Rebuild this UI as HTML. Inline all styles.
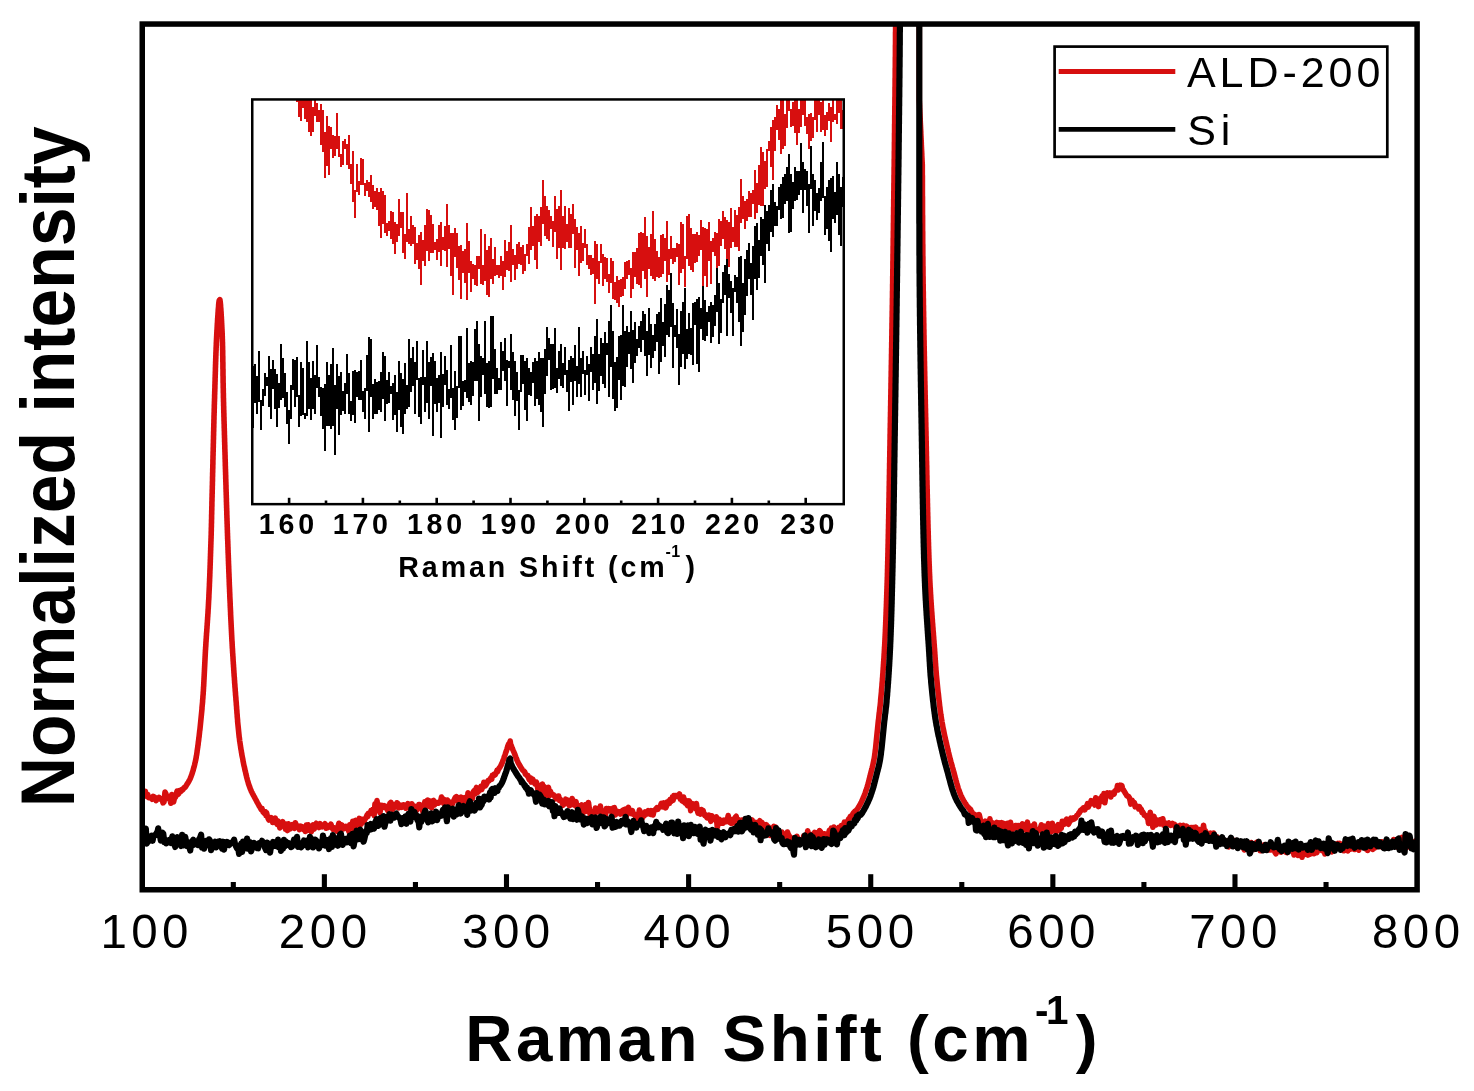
<!DOCTYPE html>
<html><head><meta charset="utf-8"><title>Raman spectra</title>
<style>
html,body{margin:0;padding:0;background:#fff;}
body{width:1474px;height:1091px;overflow:hidden;}
svg{display:block;}
text{font-family:"Liberation Sans",Arial,sans-serif;fill:#000;}
</style></head><body>
<svg width="1474" height="1091" viewBox="0 0 1474 1091">
<rect x="0" y="0" width="1474" height="1091" fill="#fff"/>
<defs>
<clipPath id="cm"><rect x="142.25" y="24.05" width="1274.85" height="865.7"/></clipPath>
<clipPath id="ci"><rect x="252.25" y="99.45" width="591.50" height="404.70"/></clipPath>
</defs>
<g clip-path="url(#cm)" fill="none" stroke-linejoin="round" stroke-linecap="round">
<polyline points="143.0,792.7 143.8,794.2 144.6,793.8 145.4,791.5 146.1,796.1 146.9,796.0 147.7,794.5 148.6,797.6 149.5,797.6 150.3,797.9 151.3,797.6 152.2,799.3 153.2,796.3 154.1,798.1 155.1,797.5 156.1,800.5 157.0,799.3 158.0,798.5 159.0,797.4 160.0,798.8 161.0,799.5 162.0,798.8 163.0,802.8 164.0,801.9 165.0,792.1 166.0,794.1 167.0,798.4 167.9,797.5 168.9,798.9 169.9,798.6 170.8,803.2 171.7,794.5 172.7,796.0 173.6,801.9 174.5,797.8 175.4,797.3 176.2,794.0 177.1,791.0 177.9,794.4 178.7,793.7 179.5,790.7 180.2,791.1 180.9,791.4 181.7,789.6 182.4,790.0 183.0,789.4 183.7,788.6 184.3,787.4 185.0,787.4 185.6,786.7 186.2,785.6 186.8,784.5 187.3,783.8 187.9,783.0 188.4,782.1 188.9,781.2 189.3,780.4 189.8,779.5 190.2,778.6 190.6,777.6 191.0,776.7 191.3,775.8 191.7,774.8 192.0,773.9 192.3,772.9 192.6,772.0 192.9,771.0 193.2,770.1 193.4,769.1 193.7,768.1 194.0,767.2 194.2,766.2 194.5,765.2 194.7,764.3 194.9,763.3 195.2,762.3 195.4,761.3 195.6,760.4 195.8,759.4 196.0,758.4 196.2,757.4 196.3,756.4 196.5,755.5 196.7,754.5 196.8,753.5 197.0,752.5 197.1,751.5 197.2,750.5 197.4,749.5 197.5,748.5 197.7,747.5 197.8,746.5 197.9,745.6 198.1,744.6 198.2,743.6 198.3,742.6 198.4,741.6 198.6,740.6 198.7,739.6 198.8,738.6 198.9,737.6 199.1,736.6 199.2,735.6 199.3,734.6 199.4,733.6 199.5,732.7 199.6,731.7 199.7,730.7 199.9,729.7 200.0,728.7 200.1,727.7 200.2,726.7 200.3,725.7 200.4,724.7 200.5,723.7 200.6,722.7 200.7,721.7 200.8,720.7 200.9,719.7 201.0,718.7 201.1,717.7 201.2,716.7 201.3,715.7 201.4,714.8 201.5,713.8 201.6,712.8 201.7,711.8 201.8,710.8 201.9,709.8 202.0,708.8 202.0,707.8 202.1,706.8 202.2,705.8 202.3,704.8 202.4,703.8 202.5,702.8 202.6,701.8 202.6,700.8 202.7,699.8 202.8,698.8 202.9,697.8 202.9,696.8 203.0,695.8 203.1,694.8 203.2,693.8 203.2,692.8 203.3,691.8 203.4,690.8 203.4,689.8 203.5,688.8 203.5,687.8 203.6,686.8 203.7,685.8 203.7,684.8 203.8,683.8 203.8,682.8 203.9,681.8 203.9,680.8 204.0,679.8 204.0,678.9 204.1,677.9 204.1,676.9 204.2,675.9 204.2,674.9 204.3,673.9 204.3,672.9 204.4,671.9 204.4,670.9 204.5,669.9 204.5,668.9 204.6,667.9 204.6,666.9 204.7,665.9 204.7,664.9 204.8,663.9 204.8,662.9 204.9,661.9 204.9,660.9 205.0,659.9 205.0,658.9 205.1,657.9 205.1,656.9 205.2,655.9 205.2,654.9 205.3,653.9 205.3,652.9 205.4,651.9 205.4,650.9 205.5,649.9 205.6,648.9 205.6,647.9 205.7,646.9 205.8,645.9 205.8,644.9 205.9,643.9 205.9,642.9 206.0,641.9 206.1,640.9 206.1,639.9 206.2,638.9 206.3,637.9 206.3,636.9 206.4,635.9 206.5,634.9 206.5,633.9 206.6,632.9 206.7,631.9 206.8,630.9 206.8,629.9 206.9,628.9 207.0,627.9 207.0,626.9 207.1,625.9 207.2,624.9 207.2,623.9 207.3,622.9 207.4,622.0 207.4,621.0 207.5,620.0 207.6,619.0 207.6,618.0 207.7,617.0 207.8,616.0 207.8,615.0 207.9,614.0 208.0,613.0 208.0,612.0 208.1,611.0 208.1,610.0 208.2,609.0 208.3,608.0 208.3,607.0 208.4,606.0 208.4,605.0 208.5,604.0 208.5,603.0 208.6,602.0 208.6,601.0 208.7,600.0 208.8,599.0 208.8,598.0 208.9,597.0 208.9,596.0 208.9,595.0 209.0,594.0 209.0,593.0 209.1,592.0 209.1,591.0 209.2,590.0 209.2,589.0 209.3,588.0 209.3,587.0 209.4,586.0 209.4,585.0 209.4,584.0 209.5,583.0 209.5,582.0 209.6,581.0 209.6,580.0 209.6,579.0 209.7,578.0 209.7,577.0 209.8,576.0 209.8,575.0 209.8,574.0 209.9,573.0 209.9,572.0 209.9,571.0 210.0,570.0 210.0,569.0 210.1,568.0 210.1,567.0 210.1,566.0 210.2,565.0 210.2,564.0 210.2,563.0 210.3,562.0 210.3,561.0 210.3,560.0 210.4,559.0 210.4,558.0 210.4,557.0 210.5,556.0 210.5,555.0 210.5,554.0 210.6,553.0 210.6,552.0 210.6,551.0 210.7,550.0 210.7,549.0 210.7,548.0 210.8,547.0 210.8,546.0 210.8,545.0 210.9,544.0 210.9,543.0 210.9,542.0 211.0,541.0 211.0,540.0 211.0,539.0 211.1,538.0 211.1,537.0 211.1,536.0 211.2,535.0 211.2,534.0 211.2,533.0 211.2,532.0 211.3,531.0 211.3,530.0 211.3,529.0 211.3,528.0 211.4,527.0 211.4,526.0 211.4,525.0 211.4,524.0 211.5,523.0 211.5,522.0 211.5,521.0 211.5,520.0 211.6,519.0 211.6,518.0 211.6,517.0 211.6,516.0 211.6,515.0 211.7,514.0 211.7,513.0 211.7,512.0 211.7,511.0 211.8,510.0 211.8,509.0 211.8,508.0 211.8,507.0 211.9,506.0 211.9,505.0 211.9,504.0 211.9,503.0 211.9,502.0 212.0,501.0 212.0,500.0 212.0,499.0 212.0,498.0 212.1,497.0 212.1,496.1 212.1,495.1 212.1,494.1 212.2,493.1 212.2,492.1 212.2,491.1 212.2,490.1 212.3,489.1 212.3,488.1 212.3,487.1 212.3,486.1 212.4,485.1 212.4,484.1 212.4,483.1 212.4,482.1 212.5,481.1 212.5,480.1 212.5,479.1 212.5,478.1 212.5,477.1 212.6,476.1 212.6,475.1 212.6,474.1 212.6,473.1 212.7,472.1 212.7,471.1 212.7,470.1 212.7,469.1 212.8,468.1 212.8,467.1 212.8,466.1 212.8,465.1 212.9,464.1 212.9,463.1 212.9,462.1 212.9,461.1 212.9,460.1 213.0,459.1 213.0,458.1 213.0,457.1 213.0,456.1 213.1,455.1 213.1,454.1 213.1,453.1 213.1,452.1 213.2,451.1 213.2,450.1 213.2,449.1 213.2,448.1 213.3,447.1 213.3,446.1 213.3,445.1 213.3,444.1 213.4,443.1 213.4,442.1 213.4,441.1 213.4,440.1 213.5,439.1 213.5,438.1 213.5,437.1 213.5,436.1 213.6,435.1 213.6,434.1 213.6,433.1 213.6,432.1 213.7,431.1 213.7,430.1 213.7,429.1 213.7,428.1 213.8,427.1 213.8,426.1 213.8,425.1 213.8,424.1 213.9,423.1 213.9,422.1 213.9,421.1 213.9,420.1 214.0,419.1 214.0,418.1 214.0,417.1 214.0,416.1 214.1,415.1 214.1,414.1 214.1,413.1 214.2,412.1 214.2,411.1 214.2,410.1 214.2,409.1 214.3,408.1 214.3,407.1 214.3,406.1 214.3,405.1 214.4,404.1 214.4,403.1 214.4,402.1 214.5,401.1 214.5,400.1 214.5,399.1 214.6,398.1 214.6,397.1 214.6,396.1 214.6,395.1 214.7,394.1 214.7,393.1 214.7,392.1 214.8,391.1 214.8,390.1 214.8,389.1 214.9,388.1 214.9,387.1 214.9,386.1 214.9,385.1 215.0,384.1 215.0,383.1 215.0,382.1 215.1,381.1 215.1,380.1 215.1,379.1 215.1,378.1 215.2,377.1 215.2,376.1 215.2,375.1 215.3,374.1 215.3,373.1 215.3,372.1 215.4,371.1 215.4,370.1 215.4,369.1 215.4,368.1 215.5,367.1 215.5,366.1 215.5,365.1 215.6,364.1 215.6,363.1 215.6,362.1 215.7,361.1 215.7,360.1 215.7,359.1 215.8,358.1 215.8,357.1 215.8,356.1 215.9,355.1 215.9,354.1 215.9,353.1 216.0,352.1 216.0,351.1 216.1,350.1 216.1,349.1 216.1,348.1 216.2,347.1 216.2,346.1 216.3,345.1 216.3,344.1 216.3,343.1 216.4,342.1 216.4,341.1 216.5,340.1 216.5,339.1 216.6,338.1 216.6,337.1 216.7,336.1 216.7,335.1 216.8,334.1 216.8,333.1 216.9,332.1 216.9,331.1 217.0,330.1 217.1,329.1 217.1,328.1 217.2,327.1 217.2,326.1 217.3,325.1 217.3,324.1 217.4,323.1 217.5,322.1 217.5,321.1 217.6,320.1 217.6,319.1 217.7,318.1 217.8,317.2 217.8,316.2 217.9,315.2 218.0,314.2 218.0,313.2 218.1,312.2 218.2,311.2 218.2,310.2 218.3,309.2 218.4,308.2 218.5,307.2 218.6,306.2 218.6,305.2 218.7,304.2 218.8,303.2 218.9,302.2 219.1,301.2 219.2,300.2 219.4,300.8 219.9,299.6 220.0,300.6 220.2,301.6 220.3,302.6 220.4,303.6 220.5,304.6 220.6,305.6 220.6,306.6 220.7,307.6 220.8,308.6 220.9,309.6 220.9,310.6 221.0,311.6 221.1,312.6 221.1,313.6 221.2,314.6 221.2,315.6 221.3,316.6 221.4,317.6 221.4,318.6 221.5,319.6 221.5,320.6 221.6,321.6 221.6,322.6 221.7,323.6 221.7,324.5 221.8,325.5 221.8,326.5 221.9,327.5 221.9,328.5 222.0,329.5 222.0,330.5 222.1,331.5 222.1,332.5 222.2,333.5 222.2,334.5 222.2,335.5 222.3,336.5 222.3,337.5 222.3,338.5 222.4,339.5 222.4,340.5 222.4,341.5 222.5,342.5 222.5,343.5 222.5,344.5 222.5,345.5 222.6,346.5 222.6,347.5 222.6,348.5 222.6,349.5 222.7,350.5 222.7,351.5 222.7,352.5 222.7,353.5 222.7,354.5 222.7,355.5 222.8,356.5 222.8,357.5 222.8,358.5 222.8,359.5 222.8,360.5 222.8,361.5 222.9,362.5 222.9,363.5 222.9,364.5 222.9,365.5 222.9,366.5 222.9,367.5 222.9,368.5 223.0,369.5 223.0,370.5 223.0,371.5 223.0,372.5 223.0,373.5 223.0,374.5 223.0,375.5 223.1,376.5 223.1,377.5 223.1,378.5 223.1,379.5 223.1,380.5 223.1,381.5 223.1,382.5 223.2,383.5 223.2,384.5 223.2,385.5 223.2,386.5 223.2,387.5 223.3,388.5 223.3,389.5 223.3,390.5 223.3,391.5 223.3,392.5 223.4,393.5 223.4,394.5 223.4,395.5 223.4,396.5 223.4,397.5 223.5,398.5 223.5,399.5 223.5,400.5 223.5,401.5 223.6,402.5 223.6,403.5 223.6,404.5 223.6,405.5 223.7,406.5 223.7,407.5 223.7,408.5 223.7,409.5 223.8,410.5 223.8,411.5 223.8,412.5 223.9,413.5 223.9,414.5 223.9,415.5 223.9,416.5 224.0,417.5 224.0,418.5 224.0,419.5 224.0,420.5 224.1,421.5 224.1,422.5 224.1,423.5 224.2,424.5 224.2,425.5 224.2,426.5 224.2,427.5 224.3,428.5 224.3,429.5 224.3,430.5 224.4,431.5 224.4,432.5 224.4,433.5 224.4,434.5 224.5,435.5 224.5,436.5 224.5,437.5 224.6,438.5 224.6,439.5 224.6,440.5 224.6,441.5 224.7,442.5 224.7,443.5 224.7,444.5 224.8,445.5 224.8,446.5 224.8,447.5 224.8,448.5 224.9,449.5 224.9,450.5 224.9,451.5 225.0,452.5 225.0,453.5 225.0,454.5 225.1,455.5 225.1,456.5 225.1,457.5 225.1,458.5 225.2,459.5 225.2,460.5 225.2,461.5 225.3,462.5 225.3,463.5 225.3,464.5 225.3,465.5 225.4,466.5 225.4,467.5 225.4,468.5 225.5,469.5 225.5,470.5 225.5,471.5 225.6,472.5 225.6,473.5 225.6,474.5 225.7,475.5 225.7,476.5 225.7,477.5 225.7,478.5 225.8,479.5 225.8,480.5 225.8,481.5 225.9,482.5 225.9,483.5 225.9,484.5 226.0,485.5 226.0,486.5 226.0,487.5 226.0,488.5 226.1,489.5 226.1,490.5 226.1,491.5 226.2,492.5 226.2,493.5 226.2,494.5 226.3,495.5 226.3,496.5 226.3,497.5 226.4,498.5 226.4,499.5 226.4,500.5 226.4,501.5 226.5,502.5 226.5,503.5 226.5,504.5 226.6,505.5 226.6,506.5 226.6,507.5 226.7,508.5 226.7,509.5 226.7,510.5 226.8,511.5 226.8,512.5 226.8,513.5 226.8,514.5 226.9,515.5 226.9,516.5 226.9,517.5 227.0,518.5 227.0,519.5 227.0,520.5 227.1,521.5 227.1,522.5 227.1,523.5 227.2,524.5 227.2,525.5 227.2,526.5 227.3,527.5 227.3,528.5 227.3,529.5 227.4,530.5 227.4,531.5 227.4,532.5 227.5,533.5 227.5,534.5 227.5,535.5 227.6,536.5 227.6,537.5 227.6,538.5 227.7,539.5 227.7,540.5 227.8,541.5 227.8,542.5 227.8,543.5 227.9,544.5 227.9,545.5 227.9,546.5 228.0,547.5 228.0,548.5 228.0,549.5 228.1,550.5 228.1,551.5 228.1,552.5 228.2,553.5 228.2,554.5 228.3,555.5 228.3,556.5 228.3,557.4 228.4,558.4 228.4,559.4 228.4,560.4 228.5,561.4 228.5,562.4 228.5,563.4 228.6,564.4 228.6,565.4 228.7,566.4 228.7,567.4 228.7,568.4 228.8,569.4 228.8,570.4 228.8,571.4 228.9,572.4 228.9,573.4 229.0,574.4 229.0,575.4 229.0,576.4 229.1,577.4 229.1,578.4 229.2,579.4 229.2,580.4 229.2,581.4 229.3,582.4 229.3,583.4 229.3,584.4 229.4,585.4 229.4,586.4 229.5,587.4 229.5,588.4 229.6,589.4 229.6,590.4 229.6,591.4 229.7,592.4 229.7,593.4 229.8,594.4 229.8,595.4 229.8,596.4 229.9,597.4 229.9,598.4 230.0,599.4 230.0,600.4 230.1,601.4 230.1,602.4 230.2,603.4 230.2,604.4 230.2,605.4 230.3,606.4 230.3,607.4 230.4,608.4 230.4,609.4 230.5,610.4 230.5,611.4 230.6,612.4 230.6,613.4 230.6,614.4 230.7,615.4 230.7,616.4 230.8,617.4 230.8,618.4 230.9,619.4 230.9,620.4 231.0,621.4 231.0,622.4 231.1,623.4 231.1,624.4 231.2,625.4 231.2,626.4 231.3,627.4 231.3,628.4 231.4,629.4 231.4,630.4 231.5,631.4 231.5,632.4 231.6,633.4 231.6,634.4 231.7,635.4 231.7,636.4 231.8,637.4 231.8,638.4 231.9,639.4 231.9,640.4 232.0,641.4 232.1,642.4 232.1,643.4 232.2,644.4 232.2,645.4 232.3,646.4 232.3,647.4 232.4,648.4 232.5,649.4 232.5,650.4 232.6,651.4 232.6,652.3 232.7,653.3 232.8,654.3 232.8,655.3 232.9,656.3 233.0,657.3 233.0,658.3 233.1,659.3 233.1,660.3 233.2,661.3 233.3,662.3 233.3,663.3 233.4,664.3 233.5,665.3 233.5,666.3 233.6,667.3 233.7,668.3 233.7,669.3 233.8,670.3 233.9,671.3 233.9,672.3 234.0,673.3 234.1,674.3 234.1,675.3 234.2,676.3 234.3,677.3 234.4,678.3 234.4,679.3 234.5,680.3 234.6,681.3 234.6,682.3 234.7,683.3 234.8,684.3 234.9,685.3 234.9,686.3 235.0,687.3 235.1,688.3 235.2,689.3 235.2,690.3 235.3,691.3 235.4,692.3 235.5,693.3 235.5,694.2 235.6,695.2 235.7,696.2 235.8,697.2 235.9,698.2 235.9,699.2 236.0,700.2 236.1,701.2 236.2,702.2 236.3,703.2 236.3,704.2 236.4,705.2 236.5,706.2 236.6,707.2 236.6,708.2 236.7,709.2 236.8,710.2 236.9,711.2 236.9,712.2 237.0,713.2 237.1,714.2 237.2,715.2 237.2,716.2 237.3,717.2 237.4,718.2 237.5,719.2 237.6,720.2 237.6,721.2 237.7,722.2 237.8,723.2 237.9,724.2 238.0,725.2 238.1,726.1 238.2,727.1 238.3,728.1 238.4,729.1 238.5,730.1 238.6,731.1 238.7,732.1 238.8,733.1 238.9,734.1 239.0,735.1 239.1,736.1 239.2,737.1 239.4,738.1 239.5,739.1 239.6,740.1 239.7,741.1 239.9,742.0 240.0,743.0 240.2,744.0 240.3,745.0 240.5,746.0 240.6,747.0 240.8,748.0 240.9,749.0 241.1,750.0 241.3,750.9 241.4,751.9 241.6,752.9 241.8,753.9 241.9,754.9 242.1,755.9 242.3,756.8 242.5,757.8 242.7,758.8 242.9,759.8 243.0,760.8 243.2,761.8 243.4,762.7 243.6,763.7 243.8,764.7 244.0,765.7 244.3,766.7 244.5,767.6 244.7,768.6 244.9,769.6 245.1,770.6 245.4,771.5 245.6,772.5 245.8,773.5 246.0,774.5 246.3,775.4 246.5,776.4 246.7,777.4 247.0,778.3 247.2,779.3 247.5,780.3 247.8,781.2 248.1,782.2 248.3,783.1 248.6,784.1 249.0,785.1 249.3,786.0 249.6,786.9 250.0,787.9 250.3,788.8 250.7,789.7 251.1,790.6 251.5,791.6 252.0,792.5 252.4,793.4 252.9,794.2 253.3,795.1 253.8,796.0 254.3,796.9 254.8,797.8 255.2,798.6 255.7,799.5 256.2,800.4 256.7,801.3 257.1,802.2 257.6,803.0 258.1,803.9 258.6,804.8 259.0,805.7 259.6,806.5 260.1,807.4 260.6,808.2 261.2,809.4 261.9,808.4 262.5,810.1 263.1,812.2 263.8,812.3 264.5,813.4 265.2,811.7 265.9,815.5 266.6,812.8 267.3,815.9 268.1,818.4 268.8,820.0 269.6,818.5 270.3,819.8 271.1,817.7 271.9,818.5 272.7,822.5 273.6,820.6 274.4,820.9 275.3,818.2 276.2,822.5 277.1,824.3 278.0,820.9 278.9,822.1 279.8,827.9 280.8,824.6 281.7,823.7 282.7,821.8 283.6,823.4 284.6,824.6 285.5,829.1 286.5,824.2 287.5,830.6 288.5,823.8 289.5,825.5 290.4,828.8 291.4,826.1 292.4,824.8 293.4,826.7 294.4,828.3 295.4,822.8 296.4,826.7 297.4,827.2 298.4,826.5 299.4,829.5 300.4,826.1 301.4,826.6 302.4,827.7 303.4,829.5 304.4,826.9 305.4,831.4 306.4,825.0 307.4,830.6 308.3,824.8 309.3,826.5 310.3,827.6 311.3,831.8 312.2,828.5 313.2,824.9 314.2,829.1 315.2,825.0 316.2,823.3 317.1,826.4 318.1,825.4 319.1,827.5 320.1,823.6 321.1,826.0 322.1,826.8 323.1,826.0 324.1,825.4 325.1,823.8 326.1,828.2 327.0,826.4 328.0,827.6 329.0,825.6 330.0,826.8 330.9,824.2 331.9,827.4 332.9,829.3 333.9,827.6 334.9,829.7 335.9,828.3 336.9,831.1 337.9,827.1 338.9,823.3 339.9,828.7 340.9,827.1 341.9,825.0 342.9,829.1 343.9,828.1 344.9,828.4 345.9,826.3 346.9,827.6 347.9,827.6 348.8,831.3 349.8,824.8 350.8,826.3 351.8,827.0 352.7,821.4 353.7,821.4 354.7,830.9 355.6,820.4 356.6,826.2 357.5,822.1 358.4,821.9 359.3,818.4 360.2,820.8 361.1,824.4 361.9,819.2 362.7,822.4 363.5,821.2 364.1,821.8 364.8,818.9 365.4,818.9 366.0,817.9 366.5,816.7 367.1,815.0 367.8,816.5 368.4,813.3 369.1,813.3 369.7,813.6 370.4,813.2 371.0,810.5 371.7,810.7 372.5,809.6 373.3,812.1 374.1,815.3 375.0,803.8 376.0,810.6 377.0,800.5 377.9,807.8 378.9,804.7 379.9,812.7 380.9,807.8 381.9,805.4 382.9,805.9 383.9,805.6 384.9,807.5 385.9,806.5 386.9,808.5 387.9,810.8 388.9,808.5 389.9,803.5 390.9,802.4 391.9,804.6 392.9,809.3 393.9,805.7 394.9,804.8 395.9,806.9 396.9,802.8 397.9,803.5 398.9,807.8 399.9,805.7 400.9,805.3 401.9,807.3 402.9,805.0 403.9,804.8 404.9,805.4 405.9,808.2 406.9,806.8 407.9,803.6 408.9,805.9 409.9,808.4 410.9,811.5 411.9,803.7 412.9,807.5 413.9,805.9 414.9,808.7 415.9,807.6 416.9,810.1 417.9,807.5 418.8,804.6 419.8,804.5 420.8,806.8 421.8,806.6 422.8,811.6 423.8,809.5 424.8,801.9 425.7,805.7 426.7,801.1 427.7,800.1 428.7,806.2 429.7,805.5 430.6,801.2 431.6,808.0 432.6,801.0 433.6,800.4 434.6,804.9 435.6,803.6 436.6,802.5 437.6,802.6 438.5,803.2 439.5,802.0 440.5,801.8 441.5,797.1 442.5,798.4 443.5,803.3 444.5,799.7 445.4,802.8 446.4,804.4 447.4,800.1 448.4,801.6 449.4,806.0 450.3,802.2 451.3,805.0 452.3,804.1 453.3,801.9 454.3,799.5 455.3,797.4 456.3,796.6 457.3,800.6 458.2,800.4 459.2,798.5 460.2,801.0 461.2,797.1 462.2,801.3 463.2,798.3 464.1,797.9 465.1,797.8 466.1,797.2 467.0,803.7 468.0,792.7 468.9,797.0 469.8,799.3 470.7,797.5 471.6,794.4 472.4,798.7 473.3,791.8 474.1,790.8 474.9,794.1 475.7,789.6 476.5,787.5 477.3,792.7 478.1,791.8 478.8,791.0 479.6,788.4 480.3,788.8 481.0,786.4 481.7,789.6 482.5,787.5 483.2,786.8 483.9,782.3 484.6,785.5 485.4,785.8 486.1,784.7 486.8,783.4 487.5,781.6 488.2,780.4 488.9,781.0 489.6,779.9 490.3,779.0 491.0,777.7 491.7,779.2 492.4,775.3 493.1,775.8 493.8,774.5 494.4,775.3 495.1,774.8 495.7,773.8 496.4,772.6 497.0,770.4 497.6,771.5 498.2,769.8 498.8,768.8 499.3,768.0 499.9,767.2 500.4,766.3 500.9,765.5 501.3,764.6 501.8,763.7 502.2,762.8 502.5,761.8 502.9,760.9 503.2,760.0 503.6,759.0 503.9,758.1 504.2,757.1 504.5,756.2 504.9,755.2 505.2,754.3 505.5,753.3 505.8,752.4 506.2,751.5 506.5,750.5 506.8,749.6 507.1,748.6 507.4,747.6 507.7,746.7 508.0,745.7 508.3,744.8 508.7,743.9 509.3,745.0 510.2,741.0 510.6,744.3 511.1,745.2 511.4,746.1 511.8,747.1 512.2,748.0 512.5,748.9 512.9,749.8 513.3,750.8 513.7,751.7 514.1,752.6 514.5,753.5 514.8,754.5 515.2,755.4 515.5,756.3 515.9,757.3 516.3,758.2 516.6,759.1 517.0,760.1 517.4,761.0 517.8,761.9 518.2,762.8 518.7,763.7 519.2,764.6 519.7,765.4 520.2,766.3 520.7,767.1 521.3,768.0 521.8,768.9 522.4,769.8 523.0,770.5 523.6,770.9 524.1,771.5 524.7,771.9 525.4,774.3 526.0,774.3 526.6,774.8 527.2,775.8 527.9,775.6 528.5,777.8 529.2,779.6 529.9,780.2 530.6,777.9 531.2,782.1 531.9,780.2 532.7,779.2 533.4,780.7 534.1,781.7 534.9,783.9 535.6,782.7 536.4,782.2 537.2,785.2 538.1,790.4 538.9,785.3 539.7,788.5 540.6,788.1 541.5,794.9 542.4,784.1 543.2,792.1 544.1,786.6 545.0,788.8 545.9,790.5 546.8,799.2 547.7,789.8 548.5,787.5 549.4,795.7 550.3,791.2 551.1,793.1 552.0,794.2 552.8,795.0 553.6,794.9 554.5,796.4 555.3,797.2 556.2,798.8 557.0,796.5 557.8,796.3 558.7,796.1 559.5,800.4 560.4,799.4 561.3,801.4 562.1,801.9 563.0,805.3 563.9,802.0 564.8,803.9 565.7,799.2 566.6,799.9 567.6,802.3 568.5,800.4 569.4,805.7 570.3,800.8 571.3,804.8 572.2,798.6 573.1,802.5 574.1,804.8 575.0,805.4 576.0,801.7 576.9,807.0 577.9,809.5 578.8,809.0 579.8,805.9 580.7,806.3 581.7,805.0 582.6,810.0 583.6,812.4 584.6,807.5 585.6,804.7 586.5,809.9 587.5,811.4 588.5,802.6 589.5,810.2 590.5,815.7 591.5,812.3 592.5,811.7 593.5,811.4 594.4,813.3 595.4,808.1 596.4,808.5 597.4,811.8 598.4,809.1 599.4,811.6 600.4,806.1 601.4,813.1 602.4,813.4 603.4,811.4 604.4,811.8 605.4,815.6 606.4,808.6 607.4,809.1 608.4,808.7 609.4,810.5 610.4,809.0 611.4,811.7 612.4,810.0 613.4,808.0 614.4,807.7 615.4,815.0 616.4,811.7 617.4,811.3 618.4,812.0 619.4,811.8 620.4,814.0 621.4,813.5 622.4,810.6 623.4,810.1 624.4,809.5 625.4,809.1 626.4,816.1 627.4,810.2 628.4,807.4 629.4,810.5 630.4,810.8 631.4,813.7 632.4,810.6 633.4,814.4 634.4,814.1 635.4,816.4 636.4,818.7 637.4,820.5 638.4,816.6 639.4,810.0 640.4,811.9 641.4,813.5 642.3,818.2 643.3,814.4 644.3,815.7 645.3,811.9 646.3,813.7 647.3,813.9 648.3,810.6 649.2,813.6 650.2,814.2 651.2,810.7 652.2,813.5 653.1,814.9 654.1,810.5 655.0,810.0 656.0,808.8 656.9,807.7 657.8,809.3 658.7,807.4 659.6,807.2 660.5,805.6 661.4,803.3 662.3,804.4 663.1,806.9 664.0,802.9 664.8,803.7 665.7,807.8 666.5,806.0 667.2,802.2 668.0,803.5 668.7,801.0 669.4,803.4 670.1,799.7 670.8,799.9 671.6,801.2 672.3,797.1 673.1,800.3 673.9,795.5 674.7,797.3 675.6,795.5 676.6,795.8 677.6,796.5 678.6,796.0 679.5,794.0 680.4,799.2 681.2,799.1 682.0,800.7 682.8,801.3 683.6,797.1 684.4,802.2 685.1,802.9 685.9,800.5 686.7,803.9 687.5,805.6 688.3,802.1 689.1,800.9 689.9,803.6 690.7,810.6 691.5,806.0 692.4,803.6 693.2,806.2 694.0,805.2 694.8,807.0 695.6,808.6 696.4,803.5 697.3,810.3 698.1,813.2 698.9,810.2 699.8,810.3 700.6,814.1 701.4,809.6 702.3,810.2 703.1,810.4 703.9,813.6 704.8,815.4 705.6,814.9 706.4,816.8 707.3,818.0 708.1,817.8 709.0,815.2 709.9,817.0 710.8,821.3 711.7,815.8 712.6,818.3 713.5,818.3 714.4,819.3 715.3,817.3 716.3,816.9 717.3,827.3 718.2,823.3 719.2,819.2 720.2,821.1 721.2,823.1 722.2,820.6 723.2,823.2 724.2,820.1 725.2,820.8 726.2,821.6 727.2,820.6 728.2,815.5 729.2,822.0 730.2,822.7 731.2,823.3 732.2,819.5 733.2,823.0 734.2,822.6 735.2,817.4 736.2,816.3 737.2,823.2 738.2,819.4 739.2,824.5 740.2,827.4 741.2,820.3 742.2,820.1 743.2,821.8 744.2,823.7 745.2,819.1 746.2,825.4 747.1,824.8 748.1,824.1 749.1,821.1 750.1,825.1 751.1,825.1 752.1,819.9 753.1,828.7 754.0,822.7 755.0,824.6 756.0,822.5 757.0,825.2 757.9,827.4 758.9,822.6 759.8,820.7 760.8,824.1 761.7,822.2 762.7,823.9 763.6,825.9 764.6,826.4 765.5,830.3 766.4,824.7 767.3,828.7 768.3,826.8 769.2,832.1 770.1,835.5 771.0,830.1 771.9,834.1 772.8,828.7 773.8,826.3 774.7,827.6 775.6,827.2 776.5,829.2 777.4,831.4 778.4,835.5 779.3,834.8 780.2,834.6 781.1,832.6 782.0,832.2 782.9,834.6 783.8,835.3 784.7,836.0 785.6,836.8 786.5,836.0 787.4,832.0 788.3,834.5 789.1,835.6 790.0,842.6 790.9,837.5 791.9,840.7 792.9,842.9 793.9,840.0 794.9,838.1 795.9,838.3 796.9,836.3 797.8,839.5 798.8,841.5 799.8,839.8 800.8,840.1 801.8,839.8 802.7,843.0 803.7,836.0 804.7,837.9 805.7,839.2 806.7,840.6 807.7,830.9 808.7,835.8 809.7,836.6 810.7,834.3 811.7,839.1 812.7,837.4 813.7,835.7 814.7,832.4 815.7,833.1 816.7,833.9 817.7,837.5 818.7,833.0 819.6,830.6 820.6,832.0 821.6,834.1 822.6,839.8 823.6,841.7 824.5,833.8 825.5,837.2 826.5,838.2 827.5,837.7 828.4,833.7 829.4,830.4 830.3,832.2 831.3,828.2 832.2,833.3 833.1,834.3 834.0,827.0 834.9,831.2 835.7,831.5 836.6,833.0 837.4,832.7 838.2,830.8 839.0,827.2 839.8,827.3 840.6,829.6 841.4,825.6 842.2,826.0 842.9,828.1 843.7,825.0 844.4,822.1 845.2,823.0 845.9,823.4 846.5,821.8 847.2,822.2 847.8,821.5 848.5,819.2 849.1,818.6 849.7,818.1 850.4,816.4 851.0,816.9 851.7,815.7 852.3,815.9 853.0,813.7 853.7,812.7 854.4,814.8 855.0,811.3 855.7,810.9 856.3,810.2 856.9,809.7 857.5,809.0 858.0,808.1 858.5,807.3 859.0,806.4 859.5,805.6 860.0,804.7 860.5,803.8 860.9,802.9 861.4,802.0 861.8,801.1 862.2,800.2 862.6,799.3 863.0,798.4 863.4,797.5 863.8,796.5 864.2,795.6 864.5,794.7 864.9,793.7 865.2,792.8 865.6,791.8 865.9,790.9 866.2,790.0 866.5,789.0 866.8,788.0 867.1,787.1 867.4,786.1 867.7,785.2 868.0,784.2 868.2,783.2 868.5,782.3 868.7,781.3 869.0,780.3 869.2,779.4 869.5,778.4 869.7,777.4 870.0,776.5 870.2,775.5 870.4,774.5 870.7,773.6 870.9,772.6 871.2,771.6 871.4,770.6 871.7,769.7 871.9,768.7 872.2,767.7 872.4,766.8 872.7,765.8 872.9,764.8 873.1,763.9 873.3,762.9 873.5,761.9 873.7,760.9 873.9,759.9 874.1,759.0 874.3,758.0 874.4,757.0 874.6,756.0 874.7,755.0 874.8,754.0 875.0,753.0 875.1,752.0 875.2,751.0 875.3,750.0 875.5,749.0 875.6,748.1 875.7,747.1 875.8,746.1 875.9,745.1 876.0,744.1 876.1,743.1 876.2,742.1 876.3,741.1 876.4,740.1 876.5,739.1 876.6,738.1 876.7,737.1 876.8,736.1 876.9,735.1 877.0,734.1 877.1,733.1 877.2,732.1 877.3,731.1 877.4,730.2 877.5,729.2 877.6,728.2 877.7,727.2 877.8,726.2 877.9,725.2 878.0,724.2 878.1,723.2 878.2,722.2 878.3,721.2 878.4,720.2 878.6,719.2 878.7,718.2 878.8,717.2 878.9,716.2 879.0,715.2 879.1,714.2 879.2,713.2 879.4,712.3 879.5,711.3 879.6,710.3 879.7,709.3 879.8,708.3 879.9,707.3 880.1,706.3 880.2,705.3 880.3,704.3 880.4,703.3 880.5,702.3 880.6,701.3 880.6,700.3 880.7,699.3 880.8,698.3 880.9,697.3 881.0,696.3 881.1,695.3 881.2,694.4 881.3,693.4 881.4,692.4 881.5,691.4 881.5,690.4 881.6,689.4 881.7,688.4 881.8,687.4 881.9,686.4 882.0,685.4 882.0,684.4 882.1,683.4 882.2,682.4 882.3,681.4 882.4,680.4 882.4,679.4 882.5,678.4 882.6,677.4 882.7,676.4 882.7,675.4 882.8,674.4 882.9,673.4 883.0,672.4 883.0,671.4 883.1,670.4 883.2,669.4 883.2,668.4 883.3,667.4 883.4,666.4 883.4,665.4 883.5,664.4 883.6,663.4 883.6,662.4 883.7,661.4 883.8,660.5 883.8,659.5 883.9,658.5 884.0,657.5 884.0,656.5 884.1,655.5 884.1,654.5 884.2,653.5 884.3,652.5 884.3,651.5 884.4,650.5 884.4,649.5 884.5,648.5 884.5,647.5 884.6,646.5 884.7,645.5 884.7,644.5 884.8,643.5 884.8,642.5 884.9,641.5 884.9,640.5 885.0,639.5 885.0,638.5 885.1,637.5 885.1,636.5 885.2,635.5 885.2,634.5 885.3,633.5 885.3,632.5 885.4,631.5 885.4,630.5 885.4,629.5 885.5,628.5 885.5,627.5 885.6,626.5 885.6,625.5 885.7,624.5 885.7,623.5 885.7,622.5 885.8,621.5 885.8,620.5 885.9,619.5 885.9,618.5 885.9,617.5 886.0,616.5 886.0,615.5 886.1,614.5 886.1,613.5 886.1,612.5 886.2,611.5 886.2,610.5 886.2,609.5 886.3,608.5 886.3,607.5 886.4,606.5 886.4,605.5 886.4,604.5 886.5,603.5 886.5,602.5 886.5,601.5 886.6,600.5 886.6,599.5 886.6,598.5 886.7,597.5 886.7,596.5 886.7,595.5 886.8,594.5 886.8,593.5 886.8,592.5 886.9,591.5 886.9,590.5 886.9,589.5 887.0,588.5 887.0,587.5 887.0,586.5 887.1,585.5 887.1,584.5 887.1,583.5 887.2,582.5 887.2,581.5 887.2,580.5 887.3,579.5 887.3,578.5 887.3,577.5 887.4,576.5 887.4,575.5 887.4,574.5 887.4,573.5 887.5,572.5 887.5,571.5 887.5,570.5 887.5,569.5 887.6,568.5 887.6,567.5 887.6,566.5 887.6,565.5 887.7,564.5 887.7,563.5 887.7,562.5 887.7,561.5 887.8,560.5 887.8,559.5 887.8,558.5 887.8,557.5 887.9,556.5 887.9,555.5 887.9,554.5 887.9,553.5 888.0,552.5 888.0,551.5 888.0,550.5 888.0,549.5 888.0,548.5 888.1,547.5 888.1,546.5 888.1,545.5 888.1,544.5 888.2,543.5 888.2,542.5 888.2,541.5 888.2,540.5 888.2,539.5 888.3,538.5 888.3,537.5 888.3,536.5 888.3,535.5 888.3,534.5 888.4,533.5 888.4,532.5 888.4,531.5 888.4,530.5 888.4,529.5 888.5,528.5 888.5,527.5 888.5,526.5 888.5,525.5 888.5,524.5 888.6,523.5 888.6,522.5 888.6,521.5 888.6,520.5 888.6,519.5 888.7,518.5 888.7,517.5 888.7,516.5 888.7,515.5 888.7,514.5 888.8,513.5 888.8,512.5 888.8,511.5 888.8,510.5 888.8,509.5 888.8,508.5 888.9,507.5 888.9,506.5 888.9,505.5 888.9,504.5 888.9,503.5 889.0,502.5 889.0,501.5 889.0,500.5 889.0,499.5 889.0,498.5 889.1,497.5 889.1,496.5 889.1,495.5 889.1,494.5 889.1,493.5 889.1,492.5 889.2,491.6 889.2,490.6 889.2,489.6 889.2,488.6 889.2,487.6 889.2,486.6 889.3,485.6 889.3,484.6 889.3,483.6 889.3,482.6 889.3,481.6 889.4,480.6 889.4,479.6 889.4,478.6 889.4,477.6 889.4,476.6 889.4,475.6 889.5,474.6 889.5,473.6 889.5,472.6 889.5,471.6 889.5,470.6 889.5,469.6 889.6,468.6 889.6,467.6 889.6,466.6 889.6,465.6 889.6,464.6 889.6,463.6 889.7,462.6 889.7,461.6 889.7,460.6 889.7,459.6 889.7,458.6 889.7,457.6 889.8,456.6 889.8,455.6 889.8,454.6 889.8,453.6 889.8,452.6 889.8,451.6 889.9,450.6 889.9,449.6 889.9,448.6 889.9,447.6 889.9,446.6 890.0,445.6 890.0,444.6 890.0,443.6 890.0,442.6 890.0,441.6 890.0,440.6 890.1,439.6 890.1,438.6 890.1,437.6 890.1,436.6 890.1,435.6 890.1,434.6 890.2,433.6 890.2,432.6 890.2,431.6 890.2,430.6 890.2,429.6 890.2,428.6 890.3,427.6 890.3,426.6 890.3,425.6 890.3,424.6 890.3,423.6 890.4,422.6 890.4,421.6 890.4,420.6 890.4,419.6 890.4,418.6 890.4,417.6 890.5,416.6 890.5,415.6 890.5,414.6 890.5,413.6 890.5,412.6 890.6,411.6 890.6,410.6 890.6,409.6 890.6,408.6 890.6,407.6 890.6,406.6 890.7,405.6 890.7,404.6 890.7,403.6 890.7,402.6 890.7,401.6 890.7,400.6 890.8,399.6 890.8,398.6 890.8,397.6 890.8,396.6 890.8,395.6 890.9,394.6 890.9,393.6 890.9,392.6 890.9,391.6 890.9,390.6 890.9,389.6 891.0,388.6 891.0,387.6 891.0,386.6 891.0,385.6 891.0,384.6 891.0,383.6 891.1,382.6 891.1,381.6 891.1,380.6 891.1,379.6 891.1,378.6 891.1,377.6 891.2,376.6 891.2,375.6 891.2,374.6 891.2,373.6 891.2,372.6 891.2,371.6 891.3,370.6 891.3,369.6 891.3,368.6 891.3,367.6 891.3,366.6 891.3,365.6 891.4,364.6 891.4,363.6 891.4,362.6 891.4,361.6 891.4,360.6 891.5,359.6 891.5,358.6 891.5,357.6 891.5,356.6 891.5,355.6 891.5,354.6 891.6,353.6 891.6,352.6 891.6,351.6 891.6,350.6 891.6,349.6 891.6,348.6 891.7,347.6 891.7,346.6 891.7,345.6 891.7,344.6 891.7,343.6 891.7,342.6 891.8,341.6 891.8,340.6 891.8,339.6 891.8,338.6 891.8,337.6 891.8,336.6 891.9,335.6 891.9,334.6 891.9,333.6 891.9,332.6 891.9,331.6 891.9,330.6 891.9,329.6 892.0,328.6 892.0,327.6 892.0,326.6 892.0,325.6 892.0,324.6 892.0,323.6 892.1,322.6 892.1,321.6 892.1,320.6 892.1,319.6 892.1,318.6 892.1,317.6 892.2,316.6 892.2,315.6 892.2,314.6 892.2,313.6 892.2,312.6 892.2,311.6 892.3,310.6 892.3,309.6 892.3,308.6 892.3,307.6 892.3,306.6 892.3,305.6 892.4,304.6 892.4,303.6 892.4,302.6 892.4,301.6 892.4,300.6 892.4,299.6 892.4,298.6 892.5,297.6 892.5,296.6 892.5,295.6 892.5,294.6 892.5,293.6 892.5,292.6 892.5,291.6 892.6,290.6 892.6,289.6 892.6,288.6 892.6,287.6 892.6,286.6 892.6,285.6 892.6,284.6 892.7,283.6 892.7,282.6 892.7,281.6 892.7,280.6 892.7,279.6 892.7,278.6 892.7,277.6 892.7,276.6 892.8,275.6 892.8,274.6 892.8,273.6 892.8,272.6 892.8,271.6 892.8,270.6 892.8,269.6 892.9,268.6 892.9,267.6 892.9,266.6 892.9,265.6 892.9,264.6 892.9,263.6 892.9,262.6 892.9,261.6 893.0,260.6 893.0,259.6 893.0,258.6 893.0,257.6 893.0,256.6 893.0,255.6 893.0,254.6 893.1,253.6 893.1,252.6 893.1,251.6 893.1,250.6 893.1,249.6 893.1,248.6 893.1,247.6 893.1,246.6 893.2,245.6 893.2,244.6 893.2,243.6 893.2,242.6 893.2,241.6 893.2,240.6 893.2,239.6 893.2,238.6 893.3,237.6 893.3,236.6 893.3,235.6 893.3,234.6 893.3,233.6 893.3,232.6 893.3,231.6 893.4,230.6 893.4,229.6 893.4,228.6 893.4,227.6 893.4,226.6 893.4,225.6 893.4,224.6 893.4,223.6 893.5,222.6 893.5,221.6 893.5,220.6 893.5,219.6 893.5,218.6 893.5,217.6 893.5,216.6 893.5,215.6 893.6,214.6 893.6,213.6 893.6,212.6 893.6,211.6 893.6,210.6 893.6,209.6 893.6,208.6 893.6,207.6 893.7,206.6 893.7,205.6 893.7,204.6 893.7,203.6 893.7,202.6 893.7,201.6 893.7,200.6 893.7,199.6 893.8,198.6 893.8,197.6 893.8,196.6 893.8,195.6 893.8,194.6 893.8,193.6 893.8,192.6 893.8,191.6 893.9,190.6 893.9,189.6 893.9,188.6 893.9,187.6 893.9,186.6 893.9,185.6 893.9,184.6 893.9,183.6 894.0,182.6 894.0,181.6 894.0,180.6 894.0,179.6 894.0,178.6 894.0,177.6 894.0,176.6 894.0,175.6 894.1,174.6 894.1,173.6 894.1,172.6 894.1,171.6 894.1,170.6 894.1,169.6 894.1,168.6 894.1,167.6 894.2,166.6 894.2,165.6 894.2,164.6 894.2,163.6 894.2,162.6 894.2,161.6 894.2,160.6 894.2,159.6 894.3,158.6 894.3,157.6 894.3,156.6 894.3,155.6 894.3,154.6 894.3,153.6 894.3,152.6 894.3,151.6 894.4,150.6 894.4,149.6 894.4,148.6 894.4,147.6 894.4,146.6 894.4,145.6 894.4,144.6 894.4,143.6 894.4,142.6 894.5,141.6 894.5,140.6 894.5,139.6 894.5,138.6 894.5,137.6 894.5,136.6 894.5,135.6 894.5,134.6 894.5,133.6 894.6,132.6 894.6,131.6 894.6,130.6 894.6,129.6 894.6,128.6 894.6,127.6 894.6,126.6 894.6,125.6 894.6,124.6 894.7,123.6 894.7,122.6 894.7,121.6 894.7,120.6 894.7,119.6 894.7,118.6 894.7,117.6 894.7,116.6 894.7,115.6 894.8,114.6 894.8,113.6 894.8,112.6 894.8,111.6 894.8,110.6 894.8,109.6 894.8,108.6 894.8,107.6 894.8,106.6 894.9,105.6 894.9,104.6 894.9,103.6 894.9,102.6 894.9,101.6 894.9,100.6 894.9,99.6 894.9,98.6 894.9,97.6 895.0,96.6 895.0,95.6 895.0,94.6 895.0,93.6 895.0,92.6 895.0,91.6 895.0,90.6 895.0,89.6 895.0,88.6 895.0,87.6 895.1,86.6 895.1,85.6 895.1,84.6 895.1,83.6 895.1,82.6 895.1,81.6 895.1,80.6 895.1,79.6 895.1,78.6 895.2,77.6 895.2,76.6 895.2,75.6 895.2,74.6 895.2,73.6 895.2,72.6 895.2,71.6 895.2,70.6 895.2,69.6 895.2,68.6 895.3,67.6 895.3,66.6 895.3,65.6 895.3,64.6 895.3,63.6 895.3,62.6 895.3,61.6 895.3,60.6 895.3,59.6 895.3,58.6 895.3,57.6 895.4,56.6 895.4,55.6 895.4,54.6 895.4,53.6 895.4,52.6 895.4,51.6 895.4,50.6 895.4,49.6 895.4,48.6 895.4,47.6 895.4,46.6 895.4,45.6 895.5,44.6 895.5,43.6 895.5,42.6 895.5,41.6 895.5,40.6 895.5,39.6 895.5,38.6 895.5,37.6 895.5,36.6 895.5,35.6 895.5,34.6 895.5,33.6 895.5,32.6 895.6,31.6 895.6,30.6 895.6,29.6 895.6,28.6 895.6,27.6 895.6,26.6 895.6,25.6 895.6,24.6 895.6,23.6 895.6,22.6 895.6,21.6 895.6,20.6 895.6,19.6 895.6,18.6 895.6,17.6 895.6,16.6 895.6,15.6 895.6,14.6 895.6,13.6 895.7,12.6 895.7,11.6 895.7,10.6 895.7,9.6 895.7,8.6 895.7,7.6 895.7,6.6 895.7,5.6 895.7,4.6 895.7,3.6 895.7,2.6 895.7,1.6 895.7,0.6 895.7,-0.4 895.7,-1.4 895.7,-2.4 895.7,-3.4 895.7,-4.4 895.7,-5.4 895.7,-6.4 895.7,-7.4 895.7,-8.4 895.7,-9.4 895.7,-10.4 895.7,-11.4 895.7,-12.4 895.7,-13.4 895.7,-14.4 895.7,-15.4 895.7,-16.4 895.7,-17.4 895.7,-18.4 895.7,-19.4 895.7,-20.4 895.7,-21.4 895.7,-22.4 895.7,-23.4 895.7,-24.4 895.7,-25.4 895.7,-26.4 895.7,-27.4 895.7,-28.4 896.2,-29.2 896.8,-30.0 897.3,-31.0 897.9,-31.7 898.5,-32.7 899.0,-33.4 899.6,-39.0 900.5,-34.0 901.5,-34.9 902.5,-28.1 903.5,-30.0 904.4,-33.5 905.4,-30.4 906.4,-31.9 907.4,-35.4 908.3,-38.6 909.3,-29.2 910.3,-30.8 911.3,-36.7 912.3,-29.8 913.2,-28.8 914.2,-32.8 915.2,-28.7 916.2,-35.1 917.1,-30.9 918.1,-30.1 919.1,-28.7 919.3,-29.2 919.3,-28.2 919.3,-27.2 919.3,-26.2 919.3,-25.2 919.3,-24.2 919.3,-23.2 919.3,-22.2 919.3,-21.2 919.3,-20.2 919.3,-19.2 919.3,-18.2 919.3,-17.2 919.3,-16.2 919.3,-15.2 919.3,-14.2 919.3,-13.2 919.3,-12.2 919.3,-11.2 919.3,-10.2 919.3,-9.2 919.3,-8.2 919.3,-7.2 919.3,-6.2 919.3,-5.2 919.3,-4.2 919.3,-3.2 919.3,-2.2 919.3,-1.2 919.3,-0.2 919.3,0.8 919.3,1.8 919.3,2.8 919.3,3.8 919.3,4.8 919.3,5.8 919.3,6.8 919.3,7.8 919.3,8.8 919.3,9.8 919.3,10.8 919.3,11.8 919.3,12.8 919.3,13.8 919.3,14.8 919.3,15.8 919.3,16.8 919.3,17.8 919.3,18.8 919.3,19.8 919.3,20.8 919.3,21.8 919.3,22.8 919.3,23.8 919.3,24.8 919.3,25.8 919.3,26.8 919.3,27.8 919.3,28.8 919.3,29.8 919.3,30.8 919.3,31.8 919.3,32.8 919.3,33.8 919.3,34.8 919.3,35.8 919.3,36.8 919.3,37.8 919.3,38.8 919.3,39.8 919.3,40.8 919.3,41.8 919.3,42.8 919.3,43.8 919.3,44.8 919.3,45.8 919.3,46.8 919.3,47.8 919.3,48.8 919.3,49.8 919.3,50.8 919.3,51.8 919.3,52.8 919.3,53.8 919.3,54.8 919.3,55.8 919.3,56.8 919.3,57.8 919.3,58.8 919.3,59.8 919.3,60.8 919.3,61.8 919.3,62.8 919.3,63.8 919.3,64.8 919.3,65.8 919.3,66.8 919.3,67.8 919.3,68.8 919.3,69.8 919.3,70.8 919.3,71.8 919.3,72.8 919.3,73.8 919.3,74.8 919.3,75.8 919.3,76.8 919.3,77.8 919.3,78.8 919.3,79.8 919.3,80.8 919.3,81.8 919.3,82.8 919.3,83.8 919.3,84.8 919.3,85.8 919.3,86.8 919.3,87.8 919.3,88.8 919.3,89.8 919.3,90.8 919.3,91.8 919.3,92.8 919.3,93.8 919.3,94.8 919.3,95.8 919.3,96.8 919.3,97.8 919.3,98.8 919.3,99.8 919.3,100.8 919.4,101.8 919.4,102.8 919.5,103.8 919.5,104.8 919.6,105.8 919.6,106.8 919.6,107.8 919.7,108.8 919.7,109.8 919.8,110.8 919.8,111.8 919.9,112.8 919.9,113.8 920.0,114.8 920.0,115.8 920.1,116.8 920.1,117.8 920.2,118.8 920.2,119.8 920.2,120.8 920.3,121.8 920.3,122.8 920.4,123.8 920.4,124.8 920.5,125.8 920.5,126.8 920.6,127.8 920.6,128.8 920.7,129.8 920.7,130.8 920.8,131.8 920.8,132.8 920.8,133.8 920.9,134.8 920.9,135.8 921.0,136.7 921.0,137.7 921.1,138.7 921.1,139.7 921.2,140.7 921.2,141.7 921.3,142.7 921.3,143.7 921.3,144.7 921.4,145.7 921.4,146.7 921.5,147.7 921.5,148.7 921.6,149.7 921.6,150.7 921.7,151.7 921.7,152.7 921.8,153.7 921.8,154.7 921.8,155.7 921.9,156.7 921.9,157.7 922.0,158.7 922.0,159.7 922.1,160.7 922.1,161.7 922.2,162.7 922.2,163.7 922.3,164.7 922.3,165.7 922.3,166.7 922.3,167.7 922.3,168.7 922.3,169.7 922.3,170.7 922.3,171.7 922.3,172.7 922.3,173.7 922.3,174.7 922.4,175.7 922.4,176.7 922.4,177.7 922.4,178.7 922.4,179.7 922.4,180.7 922.4,181.7 922.4,182.7 922.4,183.7 922.4,184.7 922.4,185.7 922.4,186.7 922.4,187.7 922.4,188.7 922.4,189.7 922.4,190.7 922.4,191.7 922.4,192.7 922.4,193.7 922.4,194.7 922.4,195.7 922.5,196.7 922.5,197.7 922.5,198.7 922.5,199.7 922.5,200.7 922.5,201.7 922.5,202.7 922.5,203.7 922.5,204.7 922.5,205.7 922.5,206.7 922.5,207.7 922.5,208.7 922.5,209.7 922.5,210.7 922.5,211.7 922.5,212.7 922.5,213.7 922.5,214.7 922.6,215.7 922.6,216.7 922.6,217.7 922.6,218.7 922.6,219.7 922.6,220.7 922.6,221.7 922.6,222.7 922.6,223.7 922.6,224.7 922.6,225.7 922.6,226.7 922.6,227.7 922.6,228.7 922.6,229.7 922.6,230.7 922.7,231.7 922.7,232.7 922.7,233.7 922.7,234.7 922.7,235.7 922.7,236.7 922.7,237.7 922.7,238.7 922.7,239.7 922.7,240.7 922.7,241.7 922.7,242.7 922.7,243.7 922.8,244.7 922.8,245.7 922.8,246.7 922.8,247.7 922.8,248.7 922.8,249.7 922.8,250.7 922.8,251.7 922.8,252.7 922.8,253.7 922.8,254.7 922.8,255.7 922.9,256.7 922.9,257.7 922.9,258.7 922.9,259.7 922.9,260.7 922.9,261.7 922.9,262.7 922.9,263.7 922.9,264.7 922.9,265.7 923.0,266.7 923.0,267.7 923.0,268.7 923.0,269.7 923.0,270.7 923.0,271.7 923.0,272.7 923.0,273.7 923.0,274.7 923.0,275.7 923.1,276.7 923.1,277.7 923.1,278.7 923.1,279.7 923.1,280.7 923.1,281.7 923.1,282.7 923.1,283.7 923.2,284.7 923.2,285.7 923.2,286.7 923.2,287.7 923.2,288.7 923.2,289.7 923.2,290.7 923.3,291.7 923.3,292.7 923.3,293.7 923.3,294.7 923.3,295.7 923.3,296.7 923.3,297.7 923.4,298.7 923.4,299.7 923.4,300.7 923.4,301.7 923.4,302.7 923.4,303.7 923.4,304.7 923.5,305.7 923.5,306.7 923.5,307.7 923.5,308.7 923.5,309.7 923.5,310.7 923.6,311.7 923.6,312.7 923.6,313.7 923.6,314.7 923.6,315.7 923.6,316.7 923.7,317.7 923.7,318.7 923.7,319.7 923.7,320.7 923.7,321.7 923.7,322.7 923.8,323.7 923.8,324.7 923.8,325.7 923.8,326.7 923.8,327.7 923.8,328.7 923.9,329.7 923.9,330.7 923.9,331.7 923.9,332.7 923.9,333.7 923.9,334.7 924.0,335.7 924.0,336.7 924.0,337.7 924.0,338.7 924.0,339.7 924.1,340.7 924.1,341.7 924.1,342.7 924.1,343.7 924.1,344.7 924.1,345.7 924.2,346.7 924.2,347.7 924.2,348.7 924.2,349.7 924.2,350.7 924.3,351.7 924.3,352.7 924.3,353.7 924.3,354.7 924.3,355.7 924.4,356.7 924.4,357.7 924.4,358.7 924.4,359.7 924.4,360.7 924.5,361.7 924.5,362.7 924.5,363.7 924.5,364.7 924.5,365.7 924.6,366.7 924.6,367.7 924.6,368.7 924.6,369.7 924.6,370.7 924.7,371.7 924.7,372.7 924.7,373.7 924.7,374.7 924.7,375.7 924.8,376.7 924.8,377.7 924.8,378.7 924.8,379.7 924.8,380.7 924.9,381.7 924.9,382.7 924.9,383.7 924.9,384.7 925.0,385.7 925.0,386.7 925.0,387.7 925.0,388.7 925.0,389.7 925.1,390.7 925.1,391.7 925.1,392.7 925.1,393.7 925.1,394.7 925.2,395.7 925.2,396.7 925.2,397.7 925.2,398.7 925.3,399.7 925.3,400.7 925.3,401.7 925.3,402.7 925.3,403.7 925.4,404.7 925.4,405.7 925.4,406.7 925.4,407.7 925.5,408.7 925.5,409.7 925.5,410.7 925.5,411.7 925.5,412.7 925.6,413.7 925.6,414.7 925.6,415.7 925.6,416.7 925.7,417.7 925.7,418.7 925.7,419.7 925.7,420.7 925.7,421.7 925.8,422.7 925.8,423.7 925.8,424.7 925.8,425.7 925.8,426.7 925.9,427.7 925.9,428.7 925.9,429.7 925.9,430.7 926.0,431.7 926.0,432.7 926.0,433.7 926.0,434.7 926.0,435.7 926.1,436.7 926.1,437.7 926.1,438.7 926.1,439.7 926.1,440.7 926.2,441.7 926.2,442.7 926.2,443.7 926.2,444.7 926.2,445.7 926.3,446.7 926.3,447.7 926.3,448.7 926.3,449.7 926.3,450.7 926.4,451.7 926.4,452.7 926.4,453.7 926.4,454.7 926.4,455.7 926.5,456.7 926.5,457.7 926.5,458.7 926.5,459.7 926.5,460.7 926.6,461.7 926.6,462.7 926.6,463.7 926.6,464.7 926.7,465.7 926.7,466.7 926.7,467.7 926.7,468.7 926.7,469.7 926.8,470.7 926.8,471.7 926.8,472.7 926.8,473.7 926.8,474.7 926.9,475.7 926.9,476.7 926.9,477.7 926.9,478.7 926.9,479.7 927.0,480.7 927.0,481.7 927.0,482.7 927.0,483.7 927.0,484.7 927.1,485.7 927.1,486.7 927.1,487.7 927.1,488.7 927.2,489.7 927.2,490.7 927.2,491.7 927.2,492.7 927.2,493.7 927.3,494.7 927.3,495.7 927.3,496.7 927.3,497.7 927.4,498.7 927.4,499.7 927.4,500.7 927.4,501.7 927.4,502.7 927.5,503.7 927.5,504.7 927.5,505.7 927.5,506.7 927.6,507.7 927.6,508.7 927.6,509.7 927.6,510.7 927.6,511.7 927.7,512.7 927.7,513.7 927.7,514.7 927.7,515.7 927.8,516.7 927.8,517.7 927.8,518.7 927.8,519.7 927.9,520.7 927.9,521.7 927.9,522.7 927.9,523.7 928.0,524.7 928.0,525.7 928.0,526.7 928.0,527.7 928.1,528.7 928.1,529.7 928.1,530.7 928.2,531.7 928.2,532.7 928.2,533.7 928.2,534.7 928.3,535.7 928.3,536.7 928.3,537.7 928.3,538.7 928.4,539.7 928.4,540.7 928.4,541.7 928.5,542.7 928.5,543.7 928.5,544.7 928.5,545.7 928.6,546.7 928.6,547.7 928.6,548.7 928.7,549.7 928.7,550.7 928.7,551.7 928.8,552.7 928.8,553.7 928.8,554.7 928.9,555.7 928.9,556.7 928.9,557.7 929.0,558.7 929.0,559.7 929.0,560.7 929.1,561.7 929.1,562.6 929.1,563.6 929.2,564.6 929.2,565.6 929.3,566.6 929.3,567.6 929.3,568.6 929.4,569.6 929.4,570.6 929.4,571.6 929.5,572.6 929.5,573.6 929.6,574.6 929.6,575.6 929.7,576.6 929.7,577.6 929.7,578.6 929.8,579.6 929.8,580.6 929.9,581.6 929.9,582.6 930.0,583.6 930.0,584.6 930.1,585.6 930.1,586.6 930.2,587.6 930.3,588.6 930.3,589.6 930.4,590.6 930.4,591.6 930.5,592.6 930.5,593.6 930.6,594.6 930.7,595.6 930.7,596.6 930.8,597.6 930.8,598.6 930.9,599.6 931.0,600.6 931.0,601.6 931.1,602.6 931.2,603.6 931.2,604.6 931.3,605.6 931.4,606.6 931.4,607.6 931.5,608.6 931.6,609.6 931.6,610.6 931.7,611.6 931.8,612.6 931.9,613.6 931.9,614.6 932.0,615.6 932.1,616.6 932.1,617.6 932.2,618.6 932.3,619.6 932.4,620.6 932.4,621.6 932.5,622.5 932.6,623.5 932.7,624.5 932.7,625.5 932.8,626.5 932.9,627.5 933.0,628.5 933.0,629.5 933.1,630.5 933.2,631.5 933.3,632.5 933.4,633.5 933.4,634.5 933.5,635.5 933.6,636.5 933.7,637.5 933.7,638.5 933.8,639.5 933.9,640.5 934.0,641.5 934.0,642.5 934.1,643.5 934.2,644.5 934.3,645.5 934.3,646.5 934.4,647.5 934.5,648.5 934.6,649.5 934.6,650.5 934.7,651.5 934.8,652.5 934.8,653.5 934.9,654.5 935.0,655.5 935.0,656.5 935.1,657.5 935.2,658.4 935.2,659.4 935.3,660.4 935.4,661.4 935.4,662.4 935.5,663.4 935.6,664.4 935.6,665.4 935.7,666.4 935.8,667.4 935.9,668.4 935.9,669.4 936.0,670.4 936.1,671.4 936.2,672.4 936.3,673.4 936.3,674.4 936.4,675.4 936.5,676.4 936.6,677.4 936.7,678.4 936.8,679.4 936.9,680.4 937.0,681.4 937.1,682.4 937.2,683.4 937.3,684.4 937.4,685.4 937.5,686.3 937.6,687.3 937.7,688.3 937.8,689.3 937.9,690.3 938.0,691.3 938.1,692.3 938.3,693.3 938.4,694.3 938.5,695.3 938.6,696.3 938.7,697.3 938.8,698.3 938.9,699.3 939.0,700.3 939.2,701.3 939.3,702.3 939.4,703.2 939.5,704.2 939.6,705.2 939.7,706.2 939.9,707.2 940.0,708.2 940.1,709.2 940.2,710.2 940.4,711.2 940.5,712.2 940.6,713.2 940.8,714.2 940.9,715.1 941.1,716.1 941.2,717.1 941.4,718.1 941.5,719.1 941.7,720.1 941.9,721.1 942.0,722.1 942.2,723.0 942.4,724.0 942.6,725.0 942.7,726.0 942.9,727.0 943.1,728.0 943.3,728.9 943.5,729.9 943.7,730.9 943.9,731.9 944.1,732.9 944.3,733.8 944.5,734.8 944.7,735.8 944.9,736.8 945.2,737.7 945.4,738.7 945.6,739.7 945.8,740.7 946.0,741.7 946.3,742.6 946.5,743.6 946.7,744.6 946.9,745.5 947.2,746.5 947.4,747.5 947.6,748.5 947.8,749.4 948.1,750.4 948.3,751.4 948.5,752.4 948.8,753.3 949.0,754.3 949.2,755.3 949.5,756.2 949.7,757.2 950.0,758.2 950.2,759.2 950.5,760.1 950.7,761.1 951.0,762.1 951.3,763.0 951.5,764.0 951.8,764.9 952.1,765.9 952.3,766.9 952.6,767.8 952.9,768.8 953.2,769.8 953.4,770.7 953.7,771.7 954.0,772.6 954.2,773.6 954.5,774.6 954.7,775.6 955.0,776.5 955.2,777.5 955.5,778.5 955.7,779.4 956.0,780.4 956.3,781.3 956.5,782.3 956.8,783.3 957.1,784.2 957.4,785.2 957.6,786.2 957.9,787.1 958.2,788.1 958.5,789.0 958.9,790.0 959.2,790.9 959.5,791.8 959.9,792.8 960.2,793.7 960.6,794.6 961.0,795.6 961.5,796.5 961.9,797.4 962.3,798.2 962.8,799.1 963.3,800.0 963.8,800.9 964.3,801.7 964.8,802.6 965.4,803.4 965.9,804.3 966.4,805.1 967.0,805.9 967.6,806.8 968.2,807.5 968.8,807.7 969.4,808.6 970.0,809.9 970.6,809.5 971.3,811.4 971.9,811.9 972.6,813.7 973.3,813.9 974.0,814.1 974.7,814.8 975.4,816.5 976.1,818.0 976.9,815.3 977.7,815.0 978.4,817.0 979.2,814.6 980.0,818.0 980.8,822.0 981.7,823.0 982.5,824.9 983.4,822.0 984.3,822.7 985.2,821.1 986.1,821.7 987.0,824.2 988.0,826.1 989.0,825.1 989.9,818.8 990.9,825.6 991.9,824.4 992.9,822.9 993.9,824.8 994.9,826.8 995.9,824.8 996.9,822.5 997.9,833.2 998.9,822.8 999.9,825.7 1000.9,828.0 1001.8,822.7 1002.8,826.8 1003.7,823.4 1004.7,825.3 1005.6,824.3 1006.6,831.2 1007.5,823.3 1008.5,828.5 1009.5,827.4 1010.5,822.3 1011.5,832.2 1012.4,826.2 1013.4,827.1 1014.4,828.4 1015.4,825.5 1016.4,825.8 1017.4,827.8 1018.4,825.6 1019.4,828.2 1020.4,831.3 1021.4,825.4 1022.4,823.9 1023.4,827.8 1024.4,829.3 1025.4,830.0 1026.4,825.5 1027.4,822.2 1028.4,830.8 1029.4,830.4 1030.4,832.6 1031.4,826.1 1032.4,830.2 1033.4,831.4 1034.4,824.0 1035.4,831.6 1036.4,832.5 1037.4,830.3 1038.4,830.2 1039.4,830.7 1040.4,828.0 1041.4,824.9 1042.4,826.2 1043.4,828.1 1044.4,826.3 1045.4,831.2 1046.4,827.4 1047.4,828.1 1048.4,823.7 1049.4,829.3 1050.4,826.3 1051.4,832.0 1052.4,823.4 1053.4,828.7 1054.4,826.6 1055.4,826.6 1056.3,831.8 1057.3,829.7 1058.3,824.7 1059.3,830.4 1060.2,824.8 1061.2,828.3 1062.2,821.3 1063.1,824.7 1064.0,824.4 1064.9,823.9 1065.8,820.2 1066.7,819.1 1067.6,823.3 1068.4,824.2 1069.3,822.4 1070.1,821.0 1070.9,818.1 1071.7,820.0 1072.5,818.9 1073.3,818.0 1074.1,819.0 1074.9,818.4 1075.6,818.0 1076.3,816.4 1077.0,815.2 1077.7,815.1 1078.3,814.3 1078.9,812.8 1079.5,812.7 1080.1,811.2 1080.8,810.1 1081.4,809.9 1082.0,809.2 1082.7,809.8 1083.4,807.9 1084.2,808.5 1084.9,809.8 1085.8,806.7 1086.6,806.8 1087.5,803.7 1088.3,807.1 1089.2,804.6 1090.2,804.2 1091.1,800.7 1092.0,800.9 1092.9,801.2 1093.9,802.8 1094.8,805.0 1095.7,797.9 1096.6,800.5 1097.6,800.2 1098.5,806.6 1099.4,799.7 1100.3,798.4 1101.2,801.3 1102.1,796.0 1103.0,799.9 1103.9,793.6 1104.8,802.8 1105.7,797.0 1106.5,795.6 1107.4,792.9 1108.3,795.3 1109.2,795.4 1110.1,793.0 1110.9,797.0 1111.8,793.0 1112.6,793.4 1113.4,793.1 1114.2,794.0 1114.9,790.8 1115.5,790.6 1116.2,790.0 1116.8,789.6 1117.5,785.6 1118.3,790.0 1119.2,786.8 1120.1,785.1 1121.1,787.3 1121.8,785.5 1122.5,788.3 1123.1,789.6 1123.6,790.4 1124.2,791.3 1124.7,792.1 1125.2,793.0 1125.7,793.8 1126.3,794.7 1126.8,795.6 1127.4,796.1 1128.1,796.2 1128.7,796.7 1129.4,797.8 1130.1,800.7 1130.8,804.1 1131.5,800.4 1132.2,800.4 1133.0,802.8 1133.7,803.4 1134.4,802.7 1135.1,806.8 1135.8,806.1 1136.6,806.8 1137.3,806.3 1138.0,807.1 1138.7,808.9 1139.4,806.7 1140.1,808.2 1140.8,809.9 1141.4,809.5 1142.0,812.4 1142.6,811.9 1143.2,812.8 1143.8,813.9 1144.4,815.3 1145.1,815.3 1145.7,815.6 1146.3,816.0 1147.0,817.9 1147.7,817.4 1148.5,823.4 1149.3,822.3 1150.2,812.3 1151.1,818.1 1152.0,821.8 1152.9,827.2 1153.9,816.2 1154.9,820.5 1155.9,824.9 1156.9,820.1 1157.9,822.2 1158.9,820.8 1159.9,824.0 1160.9,819.5 1161.8,822.5 1162.8,818.8 1163.8,825.3 1164.8,824.5 1165.8,823.1 1166.7,823.5 1167.7,823.7 1168.7,823.0 1169.6,824.6 1170.6,825.4 1171.6,824.5 1172.5,823.5 1173.5,824.2 1174.5,824.3 1175.4,827.0 1176.4,826.5 1177.4,831.5 1178.3,826.1 1179.3,827.0 1180.3,825.4 1181.2,827.6 1182.2,826.3 1183.2,825.5 1184.2,828.3 1185.2,832.2 1186.1,826.0 1187.1,826.8 1188.1,828.5 1189.1,829.5 1190.1,832.4 1191.1,827.5 1192.0,829.0 1193.0,827.5 1194.0,827.5 1195.0,828.8 1195.9,827.3 1196.9,831.6 1197.9,833.5 1198.8,829.7 1199.8,829.5 1200.7,835.1 1201.7,831.4 1202.6,836.2 1203.5,825.2 1204.5,832.6 1205.4,830.8 1206.3,832.5 1207.2,836.4 1208.1,837.6 1209.0,834.8 1209.9,838.1 1210.8,833.2 1211.7,837.3 1212.6,836.6 1213.5,833.0 1214.4,840.2 1215.3,836.5 1216.2,839.7 1217.2,837.0 1218.1,839.7 1219.0,841.2 1220.0,839.9 1220.9,839.0 1221.9,842.1 1222.9,841.3 1223.8,840.0 1224.8,841.4 1225.8,841.4 1226.7,840.9 1227.7,844.4 1228.7,846.8 1229.6,841.2 1230.6,842.5 1231.6,840.5 1232.6,839.7 1233.5,846.4 1234.5,841.9 1235.5,844.7 1236.5,840.5 1237.5,842.6 1238.4,845.7 1239.4,845.8 1240.4,845.4 1241.4,846.0 1242.4,845.7 1243.4,847.9 1244.3,849.9 1245.3,847.2 1246.3,845.6 1247.3,843.4 1248.3,844.9 1249.3,845.5 1250.3,850.3 1251.3,842.6 1252.2,844.8 1253.2,844.3 1254.2,849.4 1255.2,845.5 1256.2,842.6 1257.2,842.2 1258.2,848.5 1259.2,843.6 1260.2,850.8 1261.1,850.8 1262.1,845.3 1263.1,847.5 1264.1,848.5 1265.1,844.7 1266.1,845.5 1267.1,847.2 1268.1,848.8 1269.1,849.8 1270.1,844.3 1271.1,849.9 1272.1,849.1 1273.1,848.8 1274.1,848.4 1275.0,852.4 1276.0,853.8 1277.0,848.7 1278.0,849.5 1279.0,845.9 1280.0,849.1 1281.0,852.0 1282.0,850.0 1283.0,851.3 1284.0,850.1 1285.0,850.7 1286.0,852.3 1287.0,852.6 1288.0,845.6 1289.0,850.2 1290.0,843.2 1291.0,850.9 1292.0,849.4 1293.0,849.4 1294.0,855.0 1295.0,851.9 1296.0,853.9 1297.0,852.6 1298.0,855.4 1299.0,850.3 1300.0,850.3 1301.0,850.7 1302.0,857.3 1303.0,849.8 1304.0,850.9 1305.0,854.4 1306.0,853.2 1307.0,849.4 1308.0,855.1 1309.0,851.8 1310.0,854.2 1311.0,851.9 1312.0,852.3 1313.0,848.2 1314.0,853.7 1315.0,848.1 1316.0,850.0 1316.9,852.5 1317.9,848.7 1318.9,849.8 1319.9,849.3 1320.9,849.6 1321.9,850.6 1322.9,845.0 1323.9,847.4 1324.9,854.0 1325.9,843.5 1326.9,846.8 1327.9,850.4 1328.9,843.4 1329.8,845.8 1330.8,845.8 1331.8,851.9 1332.8,845.4 1333.8,849.2 1334.8,845.8 1335.8,847.4 1336.8,844.3 1337.8,843.4 1338.8,845.9 1339.8,843.4 1340.8,846.5 1341.8,847.2 1342.8,847.9 1343.8,850.7 1344.8,850.4 1345.8,843.7 1346.8,844.6 1347.8,850.9 1348.8,846.3 1349.8,845.4 1350.8,849.1 1351.8,844.6 1352.8,848.6 1353.8,845.4 1354.8,849.5 1355.8,845.7 1356.8,848.2 1357.8,848.7 1358.8,850.1 1359.8,843.8 1360.8,844.8 1361.8,842.1 1362.8,841.3 1363.8,844.4 1364.8,846.1 1365.8,848.9 1366.8,844.5 1367.7,850.5 1368.7,846.0 1369.7,847.8 1370.7,844.8 1371.7,842.1 1372.7,849.5 1373.7,844.5 1374.7,848.1 1375.7,844.2 1376.7,846.7 1377.7,844.7 1378.7,844.2 1379.7,844.6 1380.7,846.7 1381.7,841.8 1382.7,842.3 1383.7,847.4 1384.7,842.8 1385.7,845.2 1386.7,841.1 1387.7,844.0 1388.7,847.4 1389.7,844.7 1390.7,845.0 1391.7,843.3 1392.7,844.6 1393.7,839.6 1394.7,839.9 1395.7,845.2 1396.7,839.5 1397.7,847.4 1398.7,846.2 1399.7,840.8 1400.7,838.2 1401.7,837.5 1402.7,844.6 1403.7,843.5 1404.7,847.2 1405.7,844.8 1406.7,847.6 1407.7,845.8 1408.7,841.0 1409.7,842.9 1410.7,841.1 1411.7,842.4 1412.7,841.9 1413.7,842.6 1414.7,846.6 1415.7,841.6 1416.7,839.9 1417.7,841.3" stroke="rgb(215,15,15)" stroke-width="5.6"/>
<polyline points="143.0,836.7 143.9,834.5 144.9,835.2 145.8,828.5 146.8,843.6 147.7,841.6 148.7,836.7 149.7,840.7 150.7,838.9 151.7,835.8 152.6,840.8 153.5,835.9 154.4,835.6 155.1,834.8 155.7,835.0 156.2,834.1 156.6,833.2 157.0,832.3 157.6,831.8 158.2,828.3 158.7,832.1 159.0,833.1 159.2,834.0 159.5,835.0 159.8,835.9 160.2,836.9 160.8,840.5 161.5,833.6 162.4,832.7 163.3,833.8 164.3,842.2 165.3,839.9 166.3,843.3 167.3,842.2 168.3,840.5 169.3,840.9 170.3,839.4 171.3,843.2 172.3,836.4 173.3,839.0 174.2,841.4 175.2,847.0 176.2,838.2 177.2,837.2 178.2,839.1 179.2,844.5 180.2,840.4 181.2,846.0 182.2,834.9 183.2,845.5 184.2,845.3 185.2,836.8 186.2,842.4 187.2,846.2 188.2,842.3 189.2,845.6 190.2,850.5 191.2,843.2 192.2,841.4 193.2,839.7 194.1,844.8 195.1,841.9 196.1,842.1 197.1,842.4 198.1,845.1 199.1,839.2 200.1,837.7 201.1,834.6 202.1,847.4 203.1,843.5 204.1,848.6 205.1,843.4 206.1,840.9 207.1,845.2 208.1,843.4 209.1,839.3 210.1,840.7 211.1,850.1 212.1,845.2 213.1,845.5 214.1,843.1 215.1,841.8 216.1,847.4 217.1,843.9 218.1,841.7 219.1,844.0 220.1,841.3 221.1,845.2 222.1,848.6 223.1,841.7 224.1,849.7 225.1,842.4 226.1,845.4 227.1,841.9 228.1,844.1 229.1,845.1 230.1,843.5 231.1,842.6 232.1,842.7 233.1,842.2 234.1,839.7 235.1,844.3 236.1,846.6 237.1,848.4 238.1,847.5 239.1,853.9 240.1,846.4 241.1,843.8 242.1,851.9 243.1,841.7 244.1,848.8 245.1,842.1 246.1,846.7 247.1,838.6 248.1,848.6 249.1,844.9 250.1,842.1 251.1,851.4 252.1,848.2 253.1,845.7 254.1,842.9 255.1,845.4 256.1,845.0 257.1,848.1 258.1,848.3 259.1,843.2 260.1,843.6 261.1,843.6 262.1,840.8 263.1,843.4 264.1,845.1 265.1,847.9 266.1,850.1 267.1,842.6 268.1,847.3 269.1,843.8 270.1,852.6 271.1,845.1 272.0,847.0 273.0,842.0 274.0,842.4 275.0,845.9 276.0,843.8 277.0,846.3 278.0,839.6 279.0,847.3 280.0,841.8 281.0,850.9 282.0,843.8 283.0,848.7 284.0,839.9 285.0,846.2 286.0,841.6 287.0,842.9 288.0,844.7 289.0,843.4 290.0,845.4 291.0,847.1 292.0,846.7 293.0,844.1 294.0,839.6 295.0,841.5 296.0,843.6 297.0,836.8 298.0,846.8 299.0,843.3 300.0,843.2 301.0,847.4 302.0,846.4 303.0,844.8 304.0,840.4 305.0,845.0 306.0,845.1 307.0,840.7 308.0,847.4 309.0,845.5 310.0,836.8 311.0,844.0 312.0,839.1 313.0,847.5 314.0,846.3 315.0,839.5 316.0,840.2 317.0,843.6 318.0,842.3 319.0,848.4 320.0,845.6 321.0,841.9 322.0,844.9 323.0,835.6 324.0,843.7 325.0,845.6 326.0,841.8 327.0,839.9 328.0,844.3 329.0,849.0 330.0,842.8 330.9,838.1 331.9,846.9 332.9,835.2 333.9,843.4 334.9,839.5 335.9,844.7 336.9,838.3 337.9,845.8 338.9,842.1 339.9,834.8 340.9,833.8 341.9,839.4 342.8,844.9 343.8,840.7 344.8,840.3 345.8,839.0 346.8,842.2 347.8,840.8 348.7,840.3 349.7,835.6 350.7,843.0 351.7,843.4 352.6,833.9 353.6,846.3 354.6,840.5 355.5,836.0 356.5,830.7 357.4,839.4 358.4,838.6 359.3,834.2 360.2,829.6 361.1,839.2 362.0,833.1 362.8,833.0 363.6,841.7 364.4,838.9 365.2,835.1 366.0,830.9 366.8,833.0 367.6,825.2 368.4,830.4 369.2,827.6 370.0,825.5 370.8,823.9 371.6,829.3 372.4,827.5 373.3,827.1 374.1,828.6 374.9,823.1 375.7,821.4 376.6,819.2 377.4,822.9 378.3,825.7 379.1,822.4 380.0,824.4 380.8,817.9 381.7,819.7 382.6,818.2 383.5,816.2 384.5,826.7 385.4,822.9 386.4,817.0 387.4,816.8 388.4,819.1 389.4,814.2 390.4,820.7 391.4,814.6 392.4,817.8 393.4,815.5 394.4,817.4 395.4,814.4 396.4,813.6 397.4,815.6 398.4,816.6 399.4,817.9 400.4,819.1 401.4,824.2 402.4,821.7 403.4,817.9 404.4,821.3 405.4,816.3 406.4,823.8 407.4,820.6 408.4,813.9 409.4,821.3 410.4,821.5 411.4,809.2 412.4,815.9 413.4,816.8 414.3,811.7 415.3,814.6 416.3,815.0 417.3,820.0 418.3,819.2 419.3,827.3 420.3,816.6 421.3,821.9 422.3,818.0 423.3,818.5 424.3,813.4 425.3,810.6 426.3,814.4 427.3,819.6 428.2,822.3 429.2,818.7 430.2,818.1 431.2,813.3 432.2,821.4 433.1,820.5 434.1,813.8 435.1,815.3 436.1,811.7 437.1,820.2 438.1,816.3 439.0,814.3 440.0,815.9 441.0,815.9 442.0,812.7 443.0,809.7 444.0,809.4 445.0,807.6 446.0,815.2 446.9,821.2 447.9,807.3 448.9,813.6 449.9,814.4 450.9,809.4 451.9,813.4 452.9,808.7 453.9,816.6 454.8,810.1 455.8,812.4 456.8,814.2 457.8,810.1 458.8,805.1 459.7,809.2 460.7,813.5 461.6,810.2 462.6,811.0 463.5,806.0 464.4,809.9 465.4,811.6 466.3,808.8 467.2,814.9 468.1,807.1 469.0,803.8 469.9,801.3 470.8,810.6 471.7,805.9 472.6,809.3 473.5,806.9 474.5,810.6 475.4,808.9 476.3,802.8 477.2,804.7 478.1,807.1 479.0,798.5 479.9,807.5 480.8,806.1 481.7,804.8 482.6,800.4 483.4,801.4 484.3,796.6 485.1,799.6 485.9,797.2 486.7,798.5 487.6,796.4 488.4,797.8 489.2,799.5 490.0,792.6 490.7,797.5 491.5,789.9 492.3,789.0 493.0,793.1 493.8,792.7 494.5,792.9 495.3,788.2 496.0,790.5 496.7,790.1 497.4,791.0 498.0,788.3 498.7,788.2 499.3,786.1 499.9,786.0 500.5,785.3 501.0,784.4 501.5,783.6 502.0,782.7 502.4,781.8 502.8,780.9 503.2,779.9 503.5,779.0 503.9,778.1 504.2,777.1 504.5,776.2 504.9,775.2 505.2,774.3 505.5,773.3 505.9,772.4 506.2,771.5 506.5,770.5 506.8,769.5 507.0,768.6 507.3,767.6 507.5,766.6 507.8,765.7 508.1,764.7 508.4,763.8 508.8,762.8 509.4,759.4 510.2,758.6 510.7,763.3 511.2,764.2 511.6,765.1 512.0,766.0 512.4,766.9 512.9,767.8 513.4,768.7 513.9,769.5 514.4,770.4 515.0,771.3 515.5,772.1 516.0,773.0 516.5,773.8 517.1,774.7 517.6,775.5 518.1,776.3 518.7,777.0 519.3,777.7 519.9,778.8 520.4,779.7 521.0,780.1 521.6,782.4 522.2,781.8 522.8,782.9 523.4,783.6 524.0,784.3 524.6,786.0 525.2,785.8 525.8,787.7 526.4,788.5 527.0,787.6 527.6,790.2 528.2,789.4 528.9,793.7 529.5,791.1 530.2,791.1 530.8,790.3 531.5,791.7 532.2,793.5 532.9,793.3 533.7,793.3 534.4,794.9 535.2,796.6 536.0,801.8 536.8,793.2 537.7,797.1 538.6,796.1 539.4,794.5 540.3,795.8 541.3,797.5 542.2,803.6 543.1,800.8 544.0,799.9 544.9,804.3 545.9,803.6 546.8,802.2 547.7,804.8 548.6,801.0 549.5,806.4 550.3,806.3 551.2,804.0 552.0,802.1 552.9,810.9 553.7,807.2 554.5,816.2 555.4,806.2 556.2,811.0 557.0,808.0 557.8,810.5 558.7,812.8 559.5,808.5 560.3,811.1 561.2,812.5 562.0,812.8 562.9,815.0 563.8,817.0 564.7,816.8 565.6,815.2 566.5,813.4 567.5,811.1 568.4,812.8 569.3,813.9 570.3,818.5 571.2,815.1 572.2,812.3 573.1,819.2 574.1,814.5 575.1,814.9 576.0,817.0 577.0,819.7 577.9,809.9 578.9,814.7 579.9,819.4 580.9,817.8 581.8,816.3 582.8,817.6 583.8,824.6 584.8,818.4 585.7,822.6 586.7,823.1 587.7,819.0 588.7,822.3 589.7,819.3 590.7,818.9 591.7,817.2 592.6,824.3 593.6,820.0 594.6,819.6 595.6,817.6 596.6,828.0 597.6,824.4 598.6,821.4 599.6,819.5 600.6,816.7 601.6,823.1 602.6,823.2 603.6,817.3 604.6,826.3 605.6,825.0 606.6,819.0 607.6,820.4 608.6,820.9 609.6,823.0 610.6,821.9 611.6,816.7 612.6,827.7 613.6,823.6 614.6,827.0 615.6,827.0 616.6,822.0 617.6,824.0 618.6,825.4 619.6,825.6 620.6,822.5 621.6,821.1 622.5,823.5 623.5,820.8 624.5,821.8 625.5,816.9 626.5,824.5 627.4,820.9 628.4,822.7 629.4,824.7 630.4,826.2 631.3,832.0 632.3,826.3 633.3,820.8 634.3,826.3 635.3,824.0 636.3,827.6 637.3,823.9 638.2,823.9 639.2,824.7 640.2,824.4 641.2,820.3 642.2,824.5 643.2,826.8 644.2,831.2 645.2,826.0 646.2,825.8 647.2,829.2 648.2,829.2 649.2,833.0 650.2,829.5 651.2,827.4 652.2,832.2 653.2,833.0 654.2,826.0 655.2,828.3 656.2,821.9 657.2,826.6 658.2,824.8 659.2,827.2 660.2,826.3 661.2,827.5 662.2,827.7 663.2,829.8 664.2,828.9 665.2,826.2 666.2,823.6 667.2,832.4 668.2,833.1 669.2,826.5 670.2,830.1 671.2,822.7 672.2,822.6 673.2,827.2 674.2,833.3 675.2,824.5 676.2,825.3 677.2,833.9 678.2,821.7 679.2,830.7 680.2,830.2 681.2,828.0 682.1,829.5 683.1,838.2 684.1,825.3 685.1,828.4 686.0,828.9 687.0,827.6 688.0,825.6 688.9,836.1 689.9,831.6 690.9,824.9 691.8,828.8 692.8,832.9 693.8,833.2 694.8,826.9 695.7,831.8 696.7,833.2 697.7,833.9 698.7,834.1 699.7,826.5 700.6,839.6 701.6,834.0 702.6,839.8 703.6,843.7 704.6,833.3 705.6,829.7 706.6,837.2 707.5,833.7 708.5,832.9 709.5,831.0 710.5,840.6 711.5,833.3 712.5,830.0 713.5,833.4 714.5,830.9 715.5,835.6 716.5,833.5 717.5,831.3 718.5,837.1 719.5,832.7 720.5,837.4 721.5,839.2 722.5,833.4 723.5,832.3 724.5,835.1 725.5,837.3 726.4,834.0 727.4,834.3 728.4,833.4 729.3,834.3 730.3,835.1 731.2,830.0 732.1,830.4 732.9,831.6 733.7,829.1 734.5,830.7 735.3,831.0 736.1,829.0 736.9,827.0 737.7,825.9 738.4,831.6 739.2,828.9 740.1,822.8 740.9,822.8 741.8,831.5 742.7,829.9 743.6,824.7 744.6,828.1 745.6,818.8 746.6,824.2 747.6,827.0 748.5,818.2 749.4,822.4 750.3,828.2 751.1,829.7 752.0,824.9 752.8,828.1 753.6,832.4 754.5,827.3 755.3,825.0 756.1,829.3 757.0,828.8 757.8,834.8 758.7,831.5 759.7,828.5 760.6,840.1 761.5,830.2 762.5,833.9 763.5,834.8 764.5,835.4 765.5,833.4 766.4,835.0 767.4,832.9 768.4,828.3 769.4,832.7 770.4,832.9 771.4,833.2 772.3,834.6 773.3,832.2 774.2,839.3 775.2,840.6 776.1,828.2 776.9,836.1 777.8,834.5 778.6,830.3 779.4,838.8 780.1,836.9 780.9,838.2 781.7,838.2 782.4,842.8 783.2,843.9 784.0,842.3 784.8,844.0 785.6,842.5 786.4,843.8 787.3,841.4 788.2,844.4 789.1,842.2 790.0,846.3 791.0,848.1 792.0,846.4 793.0,849.5 794.0,854.7 795.0,837.9 796.0,845.2 797.0,843.0 798.0,843.2 799.0,839.8 799.9,844.6 800.9,843.3 801.9,841.8 802.9,842.9 803.9,841.6 804.9,835.3 805.9,847.2 806.8,842.3 807.8,839.9 808.8,844.2 809.8,840.8 810.8,835.4 811.8,846.1 812.8,837.0 813.8,842.0 814.8,843.1 815.8,847.3 816.8,846.6 817.8,842.9 818.8,839.5 819.8,840.6 820.8,845.7 821.7,847.9 822.7,843.4 823.7,839.1 824.7,844.7 825.7,839.6 826.6,839.3 827.6,839.5 828.6,842.3 829.6,840.9 830.5,843.2 831.5,843.9 832.4,840.8 833.3,830.5 834.3,832.4 835.2,838.5 836.1,837.2 837.0,844.3 837.8,836.4 838.7,835.5 839.6,838.3 840.4,838.0 841.2,833.7 842.0,835.1 842.8,830.2 843.6,830.2 844.4,835.1 845.2,828.0 846.0,832.9 846.7,831.6 847.5,831.1 848.3,830.6 849.0,829.1 849.7,823.8 850.4,825.2 851.1,825.1 851.7,826.2 852.4,823.2 853.0,822.9 853.6,822.5 854.3,823.4 854.9,819.8 855.5,819.0 856.2,820.6 856.9,816.1 857.5,818.8 858.2,816.9 858.9,814.7 859.6,815.5 860.2,814.2 860.8,814.7 861.4,814.0 862.0,813.3 862.6,812.1 863.1,811.3 863.6,810.4 864.2,809.6 864.6,808.7 865.1,807.8 865.6,806.9 866.1,806.0 866.5,805.1 866.9,804.2 867.4,803.3 867.8,802.4 868.2,801.5 868.6,800.6 869.0,799.7 869.4,798.8 869.8,797.8 870.1,796.9 870.5,796.0 870.8,795.0 871.1,794.1 871.5,793.1 871.8,792.2 872.1,791.2 872.4,790.3 872.7,789.3 873.0,788.4 873.3,787.4 873.6,786.5 873.8,785.5 874.1,784.5 874.3,783.6 874.6,782.6 874.8,781.6 875.1,780.7 875.3,779.7 875.6,778.7 875.8,777.7 876.1,776.8 876.3,775.8 876.5,774.8 876.8,773.9 877.0,772.9 877.3,771.9 877.5,771.0 877.8,770.0 878.0,769.0 878.3,768.1 878.5,767.1 878.8,766.1 879.0,765.1 879.2,764.2 879.4,763.2 879.6,762.2 879.8,761.2 880.0,760.2 880.1,759.3 880.3,758.3 880.4,757.3 880.6,756.3 880.7,755.3 880.9,754.3 881.0,753.3 881.1,752.3 881.2,751.3 881.3,750.3 881.5,749.3 881.6,748.3 881.7,747.4 881.8,746.4 881.9,745.4 882.0,744.4 882.1,743.4 882.2,742.4 882.3,741.4 882.4,740.4 882.5,739.4 882.6,738.4 882.7,737.4 882.8,736.4 882.9,735.4 883.0,734.4 883.1,733.4 883.2,732.4 883.3,731.4 883.4,730.4 883.5,729.4 883.6,728.5 883.7,727.5 883.8,726.5 883.9,725.5 884.0,724.5 884.1,723.5 884.2,722.5 884.3,721.5 884.4,720.5 884.6,719.5 884.7,718.5 884.8,717.5 884.9,716.5 885.0,715.5 885.1,714.5 885.3,713.5 885.4,712.6 885.5,711.6 885.6,710.6 885.7,709.6 885.8,708.6 885.9,707.6 886.1,706.6 886.2,705.6 886.3,704.6 886.4,703.6 886.5,702.6 886.6,701.6 886.6,700.6 886.7,699.6 886.8,698.6 886.9,697.6 887.0,696.6 887.1,695.6 887.2,694.6 887.2,693.6 887.3,692.6 887.4,691.6 887.5,690.7 887.5,689.7 887.6,688.7 887.7,687.7 887.8,686.7 887.8,685.7 887.9,684.7 888.0,683.7 888.1,682.7 888.1,681.7 888.2,680.7 888.3,679.7 888.3,678.7 888.4,677.7 888.5,676.7 888.5,675.7 888.6,674.7 888.7,673.7 888.7,672.7 888.8,671.7 888.9,670.7 888.9,669.7 889.0,668.7 889.0,667.7 889.1,666.7 889.2,665.7 889.2,664.7 889.3,663.7 889.3,662.7 889.4,661.7 889.4,660.7 889.5,659.7 889.6,658.7 889.6,657.7 889.7,656.7 889.7,655.7 889.8,654.7 889.8,653.7 889.9,652.7 889.9,651.7 890.0,650.7 890.0,649.7 890.1,648.7 890.1,647.7 890.2,646.7 890.2,645.7 890.2,644.7 890.3,643.7 890.3,642.7 890.4,641.7 890.4,640.7 890.5,639.7 890.5,638.7 890.5,637.7 890.6,636.7 890.6,635.7 890.7,634.7 890.7,633.7 890.7,632.7 890.8,631.7 890.8,630.8 890.8,629.8 890.9,628.8 890.9,627.8 891.0,626.8 891.0,625.8 891.0,624.8 891.1,623.8 891.1,622.8 891.1,621.8 891.2,620.8 891.2,619.8 891.2,618.8 891.2,617.8 891.3,616.8 891.3,615.8 891.3,614.8 891.4,613.8 891.4,612.8 891.4,611.8 891.5,610.8 891.5,609.8 891.5,608.8 891.5,607.8 891.6,606.8 891.6,605.8 891.6,604.8 891.7,603.8 891.7,602.8 891.7,601.8 891.7,600.8 891.8,599.8 891.8,598.8 891.8,597.8 891.8,596.8 891.9,595.8 891.9,594.8 891.9,593.8 891.9,592.8 892.0,591.8 892.0,590.8 892.0,589.8 892.0,588.8 892.1,587.8 892.1,586.8 892.1,585.8 892.1,584.8 892.2,583.8 892.2,582.8 892.2,581.8 892.2,580.8 892.3,579.8 892.3,578.8 892.3,577.8 892.3,576.8 892.4,575.8 892.4,574.8 892.4,573.8 892.4,572.8 892.5,571.8 892.5,570.8 892.5,569.8 892.5,568.8 892.6,567.8 892.6,566.8 892.6,565.8 892.6,564.8 892.6,563.8 892.7,562.8 892.7,561.8 892.7,560.8 892.7,559.8 892.8,558.8 892.8,557.8 892.8,556.8 892.8,555.8 892.8,554.8 892.9,553.8 892.9,552.8 892.9,551.8 892.9,550.8 892.9,549.8 893.0,548.8 893.0,547.8 893.0,546.8 893.0,545.8 893.0,544.8 893.1,543.8 893.1,542.8 893.1,541.8 893.1,540.8 893.1,539.8 893.2,538.8 893.2,537.8 893.2,536.8 893.2,535.8 893.2,534.8 893.2,533.8 893.3,532.8 893.3,531.8 893.3,530.8 893.3,529.8 893.3,528.8 893.4,527.8 893.4,526.8 893.4,525.8 893.4,524.8 893.4,523.8 893.4,522.8 893.5,521.8 893.5,520.8 893.5,519.8 893.5,518.8 893.5,517.8 893.5,516.8 893.6,515.8 893.6,514.8 893.6,513.8 893.6,512.8 893.6,511.8 893.6,510.8 893.7,509.8 893.7,508.8 893.7,507.8 893.7,506.8 893.7,505.8 893.7,504.8 893.7,503.8 893.8,502.8 893.8,501.8 893.8,500.8 893.8,499.8 893.8,498.8 893.8,497.8 893.9,496.8 893.9,495.8 893.9,494.8 893.9,493.8 893.9,492.8 893.9,491.8 893.9,490.8 894.0,489.8 894.0,488.8 894.0,487.8 894.0,486.8 894.0,485.8 894.0,484.8 894.1,483.8 894.1,482.8 894.1,481.8 894.1,480.8 894.1,479.8 894.1,478.8 894.1,477.8 894.2,476.8 894.2,475.8 894.2,474.8 894.2,473.8 894.2,472.8 894.2,471.8 894.2,470.8 894.3,469.8 894.3,468.8 894.3,467.8 894.3,466.8 894.3,465.8 894.3,464.8 894.3,463.8 894.4,462.8 894.4,461.8 894.4,460.8 894.4,459.8 894.4,458.8 894.4,457.8 894.5,456.8 894.5,455.8 894.5,454.8 894.5,453.8 894.5,452.8 894.5,451.8 894.5,450.8 894.6,449.8 894.6,448.8 894.6,447.8 894.6,446.8 894.6,445.8 894.6,444.8 894.6,443.8 894.7,442.8 894.7,441.8 894.7,440.8 894.7,439.8 894.7,438.8 894.7,437.8 894.7,436.8 894.8,435.8 894.8,434.8 894.8,433.8 894.8,432.8 894.8,431.8 894.8,430.8 894.9,429.8 894.9,428.8 894.9,427.8 894.9,426.8 894.9,425.8 894.9,424.8 894.9,423.8 895.0,422.8 895.0,421.8 895.0,420.8 895.0,419.8 895.0,418.8 895.0,417.8 895.0,416.8 895.1,415.8 895.1,414.8 895.1,413.8 895.1,412.8 895.1,411.8 895.1,410.8 895.2,409.8 895.2,408.8 895.2,407.8 895.2,406.8 895.2,405.8 895.2,404.8 895.2,403.8 895.3,402.8 895.3,401.8 895.3,400.8 895.3,399.8 895.3,398.8 895.3,397.8 895.4,396.8 895.4,395.8 895.4,394.8 895.4,393.8 895.4,392.8 895.4,391.8 895.4,390.8 895.5,389.8 895.5,388.8 895.5,387.8 895.5,386.8 895.5,385.8 895.5,384.8 895.5,383.8 895.6,382.8 895.6,381.8 895.6,380.8 895.6,379.8 895.6,378.8 895.6,377.8 895.7,376.8 895.7,375.8 895.7,374.8 895.7,373.8 895.7,372.8 895.7,371.8 895.7,370.8 895.8,369.8 895.8,368.8 895.8,367.8 895.8,366.8 895.8,365.8 895.8,364.8 895.8,363.8 895.9,362.8 895.9,361.8 895.9,360.8 895.9,359.8 895.9,358.8 895.9,357.8 895.9,356.8 896.0,355.8 896.0,354.8 896.0,353.8 896.0,352.8 896.0,351.8 896.0,350.8 896.0,349.8 896.1,348.8 896.1,347.8 896.1,346.8 896.1,345.8 896.1,344.8 896.1,343.8 896.1,342.8 896.2,341.8 896.2,340.8 896.2,339.8 896.2,338.8 896.2,337.8 896.2,336.8 896.2,335.8 896.3,334.8 896.3,333.8 896.3,332.8 896.3,331.8 896.3,330.8 896.3,329.8 896.3,328.8 896.3,327.8 896.4,326.8 896.4,325.8 896.4,324.8 896.4,323.8 896.4,322.8 896.4,321.8 896.4,320.8 896.5,319.8 896.5,318.8 896.5,317.8 896.5,316.8 896.5,315.8 896.5,314.8 896.5,313.8 896.6,312.8 896.6,311.8 896.6,310.8 896.6,309.8 896.6,308.8 896.6,307.8 896.6,306.8 896.7,305.8 896.7,304.8 896.7,303.8 896.7,302.8 896.7,301.8 896.7,300.8 896.7,299.8 896.7,298.8 896.8,297.8 896.8,296.8 896.8,295.8 896.8,294.8 896.8,293.8 896.8,292.8 896.8,291.8 896.9,290.8 896.9,289.8 896.9,288.8 896.9,287.8 896.9,286.8 896.9,285.8 896.9,284.8 896.9,283.8 897.0,282.8 897.0,281.8 897.0,280.8 897.0,279.8 897.0,278.8 897.0,277.8 897.0,276.8 897.1,275.8 897.1,274.8 897.1,273.8 897.1,272.8 897.1,271.8 897.1,270.8 897.1,269.8 897.1,268.8 897.2,267.8 897.2,266.8 897.2,265.8 897.2,264.8 897.2,263.8 897.2,262.8 897.2,261.8 897.3,260.8 897.3,259.8 897.3,258.8 897.3,257.8 897.3,256.8 897.3,255.8 897.3,254.8 897.3,253.8 897.4,252.8 897.4,251.8 897.4,250.8 897.4,249.8 897.4,248.8 897.4,247.8 897.4,246.8 897.5,245.8 897.5,244.8 897.5,243.8 897.5,242.8 897.5,241.8 897.5,240.8 897.5,239.8 897.5,238.8 897.6,237.8 897.6,236.8 897.6,235.8 897.6,234.8 897.6,233.8 897.6,232.8 897.6,231.8 897.6,230.8 897.7,229.8 897.7,228.8 897.7,227.8 897.7,226.8 897.7,225.8 897.7,224.8 897.7,223.8 897.8,222.8 897.8,221.8 897.8,220.8 897.8,219.8 897.8,218.8 897.8,217.8 897.8,216.8 897.8,215.8 897.9,214.8 897.9,213.8 897.9,212.8 897.9,211.8 897.9,210.8 897.9,209.8 897.9,208.8 897.9,207.8 898.0,206.8 898.0,205.8 898.0,204.8 898.0,203.8 898.0,202.8 898.0,201.8 898.0,200.8 898.0,199.8 898.1,198.8 898.1,197.8 898.1,196.8 898.1,195.8 898.1,194.8 898.1,193.8 898.1,192.8 898.1,191.8 898.2,190.8 898.2,189.8 898.2,188.8 898.2,187.8 898.2,186.8 898.2,185.8 898.2,184.8 898.2,183.8 898.3,182.8 898.3,181.8 898.3,180.8 898.3,179.8 898.3,178.8 898.3,177.8 898.3,176.8 898.3,175.8 898.4,174.8 898.4,173.8 898.4,172.8 898.4,171.8 898.4,170.8 898.4,169.8 898.4,168.8 898.4,167.8 898.5,166.8 898.5,165.8 898.5,164.8 898.5,163.8 898.5,162.8 898.5,161.8 898.5,160.8 898.5,159.8 898.6,158.8 898.6,157.8 898.6,156.8 898.6,155.8 898.6,154.8 898.6,153.8 898.6,152.8 898.6,151.8 898.6,150.8 898.7,149.8 898.7,148.8 898.7,147.8 898.7,146.8 898.7,145.8 898.7,144.8 898.7,143.8 898.7,142.8 898.8,141.8 898.8,140.8 898.8,139.8 898.8,138.8 898.8,137.8 898.8,136.8 898.8,135.8 898.8,134.8 898.8,133.8 898.9,132.8 898.9,131.8 898.9,130.8 898.9,129.8 898.9,128.8 898.9,127.8 898.9,126.8 898.9,125.8 898.9,124.8 899.0,123.8 899.0,122.8 899.0,121.8 899.0,120.8 899.0,119.8 899.0,118.8 899.0,117.8 899.0,116.8 899.0,115.8 899.1,114.8 899.1,113.8 899.1,112.8 899.1,111.8 899.1,110.8 899.1,109.8 899.1,108.8 899.1,107.8 899.1,106.8 899.2,105.8 899.2,104.8 899.2,103.8 899.2,102.8 899.2,101.8 899.2,100.8 899.2,99.8 899.2,98.8 899.2,97.8 899.3,96.8 899.3,95.8 899.3,94.8 899.3,93.8 899.3,92.8 899.3,91.8 899.3,90.8 899.3,89.8 899.3,88.8 899.3,87.8 899.4,86.8 899.4,85.8 899.4,84.8 899.4,83.8 899.4,82.8 899.4,81.8 899.4,80.8 899.4,79.8 899.4,78.8 899.5,77.8 899.5,76.8 899.5,75.8 899.5,74.8 899.5,73.8 899.5,72.8 899.5,71.8 899.5,70.8 899.5,69.8 899.5,68.8 899.5,67.8 899.6,66.8 899.6,65.8 899.6,64.8 899.6,63.8 899.6,62.8 899.6,61.8 899.6,60.8 899.6,59.8 899.6,58.8 899.6,57.8 899.7,56.8 899.7,55.8 899.7,54.8 899.7,53.8 899.7,52.8 899.7,51.8 899.7,50.8 899.7,49.8 899.7,48.8 899.7,47.8 899.7,46.8 899.7,45.8 899.8,44.8 899.8,43.8 899.8,42.8 899.8,41.8 899.8,40.8 899.8,39.8 899.8,38.8 899.8,37.8 899.8,36.8 899.8,35.8 899.8,34.8 899.8,33.8 899.8,32.8 899.9,31.8 899.9,30.8 899.9,29.8 899.9,28.8 899.9,27.8 899.9,26.8 899.9,25.8 899.9,24.8 899.9,23.8 899.9,22.8 899.9,21.8 899.9,20.8 899.9,19.8 899.9,18.8 899.9,17.8 899.9,16.8 899.9,15.8 899.9,14.8 899.9,13.8 899.9,12.8 900.0,11.8 900.0,10.8 900.0,9.8 900.0,8.8 900.0,7.8 900.0,6.8 900.0,5.8 900.0,4.8 900.0,3.8 900.0,2.8 900.0,1.8 900.0,0.8 900.0,-0.2 900.0,-1.2 900.0,-2.2 900.0,-3.2 900.0,-4.2 900.0,-5.2 900.0,-6.2 900.0,-7.2 900.0,-8.2 900.0,-9.2 900.0,-10.2 900.0,-11.2 900.0,-12.2 900.0,-13.2 900.0,-14.2 900.0,-15.2 900.0,-16.2 900.0,-17.2 900.0,-18.2 900.0,-19.2 900.0,-20.2 900.0,-21.2 900.0,-22.2 900.0,-23.2 900.0,-24.2 900.0,-25.2 900.0,-26.2 900.0,-27.2 900.0,-28.2 900.0,-29.2 900.2,-32.5 901.2,-25.7 902.2,-27.6 903.2,-30.8 904.2,-36.5 905.2,-33.2 906.2,-29.6 907.2,-28.2 908.2,-32.0 909.2,-28.6 910.2,-32.4 911.2,-31.6 912.2,-28.3 913.2,-31.1 914.2,-29.7 915.2,-27.1 916.2,-26.2 917.2,-32.2 918.2,-31.1 919.2,-33.5 919.3,-29.1 919.3,-28.1 919.3,-27.1 919.3,-26.1 919.3,-25.1 919.3,-24.1 919.3,-23.1 919.3,-22.1 919.3,-21.1 919.3,-20.1 919.3,-19.1 919.3,-18.1 919.3,-17.1 919.3,-16.1 919.3,-15.1 919.3,-14.1 919.3,-13.1 919.3,-12.1 919.3,-11.1 919.3,-10.1 919.3,-9.1 919.3,-8.1 919.3,-7.1 919.3,-6.1 919.3,-5.1 919.3,-4.1 919.3,-3.1 919.3,-2.1 919.3,-1.1 919.3,-0.1 919.3,0.9 919.3,1.9 919.3,2.9 919.3,3.9 919.3,4.9 919.3,5.9 919.3,6.9 919.3,7.9 919.3,8.9 919.3,9.9 919.3,10.9 919.3,11.9 919.3,12.9 919.3,13.9 919.3,14.9 919.3,15.9 919.3,16.9 919.3,17.9 919.3,18.9 919.3,19.9 919.3,20.9 919.3,21.9 919.3,22.9 919.3,23.9 919.3,24.9 919.3,25.9 919.3,26.9 919.3,27.9 919.3,28.9 919.3,29.9 919.3,30.9 919.3,31.9 919.3,32.9 919.3,33.9 919.3,34.9 919.3,35.9 919.3,36.9 919.3,37.9 919.3,38.9 919.3,39.9 919.3,40.9 919.3,41.9 919.3,42.9 919.3,43.9 919.3,44.9 919.3,45.9 919.3,46.9 919.3,47.9 919.3,48.9 919.3,49.9 919.3,50.9 919.3,51.9 919.3,52.9 919.3,53.9 919.3,54.9 919.3,55.9 919.3,56.9 919.3,57.9 919.3,58.9 919.3,59.9 919.3,60.9 919.3,61.9 919.3,62.9 919.3,63.9 919.3,64.9 919.3,65.9 919.3,66.9 919.3,67.9 919.3,68.9 919.3,69.9 919.3,70.9 919.3,71.9 919.3,72.9 919.3,73.9 919.3,74.9 919.3,75.9 919.3,76.9 919.3,77.9 919.3,78.9 919.3,79.9 919.3,80.9 919.3,81.9 919.3,82.9 919.3,83.9 919.3,84.9 919.3,85.9 919.3,86.9 919.3,87.9 919.3,88.9 919.3,89.9 919.3,90.9 919.3,91.9 919.3,92.9 919.3,93.9 919.3,94.9 919.3,95.9 919.3,96.9 919.3,97.9 919.3,98.9 919.3,99.9 919.3,100.9 919.3,101.9 919.3,102.9 919.3,103.9 919.3,104.9 919.3,105.9 919.3,106.9 919.3,107.9 919.3,108.9 919.3,109.9 919.3,110.9 919.3,111.9 919.3,112.9 919.3,113.9 919.3,114.9 919.3,115.9 919.3,116.9 919.3,117.9 919.3,118.9 919.3,119.9 919.3,120.9 919.3,121.9 919.3,122.9 919.3,123.9 919.3,124.9 919.3,125.9 919.3,126.9 919.3,127.9 919.3,128.9 919.3,129.9 919.3,130.9 919.3,131.9 919.3,132.9 919.3,133.9 919.3,134.9 919.3,135.9 919.3,136.9 919.3,137.9 919.3,138.9 919.3,139.9 919.3,140.9 919.3,141.9 919.3,142.9 919.3,143.9 919.3,144.9 919.3,145.9 919.3,146.9 919.3,147.9 919.3,148.9 919.3,149.9 919.3,150.9 919.3,151.9 919.3,152.9 919.3,153.9 919.3,154.9 919.3,155.9 919.3,156.9 919.3,157.9 919.3,158.9 919.3,159.9 919.3,160.9 919.3,161.9 919.3,162.9 919.3,163.9 919.3,164.9 919.3,165.9 919.3,166.9 919.3,167.9 919.3,168.9 919.3,169.9 919.3,170.9 919.3,171.9 919.3,172.9 919.3,173.9 919.3,174.9 919.3,175.9 919.3,176.9 919.3,177.9 919.3,178.9 919.3,179.9 919.3,180.9 919.3,181.9 919.3,182.9 919.3,183.9 919.3,184.9 919.3,185.9 919.3,186.9 919.3,187.9 919.3,188.9 919.3,189.9 919.3,190.9 919.3,191.9 919.3,192.9 919.3,193.9 919.3,194.9 919.3,195.9 919.3,196.9 919.3,197.9 919.3,198.9 919.3,199.9 919.3,200.9 919.3,201.9 919.3,202.9 919.3,203.9 919.3,204.9 919.3,205.9 919.3,206.9 919.3,207.9 919.3,208.9 919.3,209.9 919.3,210.9 919.3,211.9 919.3,212.9 919.3,213.9 919.3,214.9 919.3,215.9 919.3,216.9 919.3,217.9 919.3,218.9 919.3,219.9 919.3,220.9 919.3,221.9 919.3,222.9 919.4,223.9 919.4,224.9 919.4,225.9 919.4,226.9 919.4,227.9 919.4,228.9 919.4,229.9 919.4,230.9 919.4,231.9 919.4,232.9 919.4,233.9 919.4,234.9 919.4,235.9 919.4,236.9 919.4,237.9 919.4,238.9 919.4,239.9 919.4,240.9 919.4,241.9 919.4,242.9 919.4,243.9 919.4,244.9 919.4,245.9 919.4,246.9 919.4,247.9 919.4,248.9 919.4,249.9 919.4,250.9 919.4,251.9 919.4,252.9 919.4,253.9 919.4,254.9 919.5,255.9 919.5,256.9 919.5,257.9 919.5,258.9 919.5,259.9 919.5,260.9 919.5,261.9 919.5,262.9 919.5,263.9 919.5,264.9 919.5,265.9 919.5,266.9 919.5,267.9 919.5,268.9 919.5,269.9 919.5,270.9 919.5,271.9 919.5,272.9 919.6,273.9 919.6,274.9 919.6,275.9 919.6,276.9 919.6,277.9 919.6,278.9 919.6,279.9 919.6,280.9 919.6,281.9 919.6,282.9 919.6,283.9 919.6,284.9 919.6,285.9 919.7,286.9 919.7,287.9 919.7,288.9 919.7,289.9 919.7,290.9 919.7,291.9 919.7,292.9 919.7,293.9 919.7,294.9 919.7,295.9 919.7,296.9 919.8,297.9 919.8,298.9 919.8,299.9 919.8,300.9 919.8,301.9 919.8,302.9 919.8,303.9 919.8,304.9 919.8,305.9 919.8,306.9 919.9,307.9 919.9,308.9 919.9,309.9 919.9,310.9 919.9,311.9 919.9,312.9 919.9,313.9 919.9,314.9 919.9,315.9 920.0,316.9 920.0,317.9 920.0,318.9 920.0,319.9 920.0,320.9 920.0,321.9 920.0,322.9 920.0,323.9 920.0,324.9 920.1,325.9 920.1,326.9 920.1,327.9 920.1,328.9 920.1,329.9 920.1,330.9 920.1,331.9 920.1,332.9 920.2,333.9 920.2,334.9 920.2,335.9 920.2,336.9 920.2,337.9 920.2,338.9 920.2,339.9 920.3,340.9 920.3,341.9 920.3,342.9 920.3,343.9 920.3,344.9 920.3,345.9 920.3,346.9 920.4,347.9 920.4,348.9 920.4,349.9 920.4,350.9 920.4,351.9 920.4,352.9 920.4,353.9 920.5,354.9 920.5,355.9 920.5,356.9 920.5,357.9 920.5,358.9 920.5,359.9 920.5,360.9 920.6,361.9 920.6,362.9 920.6,363.9 920.6,364.9 920.6,365.9 920.6,366.9 920.6,367.9 920.7,368.9 920.7,369.9 920.7,370.9 920.7,371.9 920.7,372.9 920.7,373.9 920.8,374.9 920.8,375.9 920.8,376.9 920.8,377.9 920.8,378.9 920.8,379.9 920.8,380.9 920.9,381.9 920.9,382.9 920.9,383.9 920.9,384.9 920.9,385.9 920.9,386.9 921.0,387.9 921.0,388.9 921.0,389.9 921.0,390.9 921.0,391.9 921.0,392.9 921.1,393.9 921.1,394.9 921.1,395.9 921.1,396.9 921.1,397.9 921.1,398.9 921.2,399.9 921.2,400.9 921.2,401.9 921.2,402.9 921.2,403.9 921.2,404.9 921.3,405.9 921.3,406.9 921.3,407.9 921.3,408.9 921.3,409.9 921.3,410.9 921.4,411.9 921.4,412.9 921.4,413.9 921.4,414.9 921.4,415.9 921.4,416.9 921.5,417.9 921.5,418.9 921.5,419.9 921.5,420.9 921.5,421.9 921.5,422.9 921.6,423.9 921.6,424.9 921.6,425.9 921.6,426.9 921.6,427.9 921.6,428.9 921.7,429.9 921.7,430.9 921.7,431.9 921.7,432.9 921.7,433.9 921.7,434.9 921.8,435.9 921.8,436.9 921.8,437.9 921.8,438.9 921.8,439.9 921.8,440.9 921.9,441.9 921.9,442.9 921.9,443.9 921.9,444.9 921.9,445.9 921.9,446.9 921.9,447.9 922.0,448.9 922.0,449.9 922.0,450.9 922.0,451.9 922.0,452.9 922.0,453.9 922.1,454.9 922.1,455.9 922.1,456.9 922.1,457.9 922.1,458.9 922.1,459.9 922.1,460.9 922.2,461.9 922.2,462.9 922.2,463.9 922.2,464.9 922.2,465.9 922.2,466.9 922.3,467.9 922.3,468.9 922.3,469.9 922.3,470.9 922.3,471.9 922.3,472.9 922.3,473.9 922.4,474.9 922.4,475.9 922.4,476.9 922.4,477.9 922.4,478.9 922.4,479.9 922.5,480.9 922.5,481.9 922.5,482.9 922.5,483.9 922.5,484.9 922.5,485.9 922.6,486.9 922.6,487.9 922.6,488.9 922.6,489.9 922.6,490.9 922.6,491.9 922.7,492.9 922.7,493.8 922.7,494.8 922.7,495.8 922.7,496.8 922.7,497.8 922.8,498.8 922.8,499.8 922.8,500.8 922.8,501.8 922.8,502.8 922.8,503.8 922.9,504.8 922.9,505.8 922.9,506.8 922.9,507.8 922.9,508.8 923.0,509.8 923.0,510.8 923.0,511.8 923.0,512.8 923.0,513.8 923.0,514.8 923.1,515.8 923.1,516.8 923.1,517.8 923.1,518.8 923.1,519.8 923.2,520.8 923.2,521.8 923.2,522.8 923.2,523.8 923.2,524.8 923.3,525.8 923.3,526.8 923.3,527.8 923.3,528.8 923.4,529.8 923.4,530.8 923.4,531.8 923.4,532.8 923.4,533.8 923.5,534.8 923.5,535.8 923.5,536.8 923.5,537.8 923.6,538.8 923.6,539.8 923.6,540.8 923.6,541.8 923.6,542.8 923.7,543.8 923.7,544.8 923.7,545.8 923.7,546.8 923.8,547.8 923.8,548.8 923.8,549.8 923.9,550.8 923.9,551.8 923.9,552.8 923.9,553.8 924.0,554.8 924.0,555.8 924.0,556.8 924.0,557.8 924.1,558.8 924.1,559.8 924.1,560.8 924.2,561.8 924.2,562.8 924.2,563.8 924.3,564.8 924.3,565.8 924.3,566.8 924.4,567.8 924.4,568.8 924.4,569.8 924.5,570.8 924.5,571.8 924.5,572.8 924.6,573.8 924.6,574.8 924.6,575.8 924.7,576.8 924.7,577.8 924.8,578.8 924.8,579.8 924.8,580.8 924.9,581.8 924.9,582.8 925.0,583.8 925.0,584.8 925.0,585.8 925.1,586.8 925.1,587.8 925.2,588.8 925.2,589.8 925.3,590.8 925.3,591.8 925.4,592.8 925.4,593.8 925.5,594.8 925.5,595.8 925.6,596.8 925.6,597.8 925.7,598.8 925.7,599.8 925.8,600.8 925.9,601.8 925.9,602.8 926.0,603.8 926.0,604.8 926.1,605.8 926.1,606.8 926.2,607.8 926.3,608.8 926.3,609.8 926.4,610.8 926.5,611.8 926.5,612.8 926.6,613.8 926.6,614.8 926.7,615.8 926.8,616.8 926.8,617.8 926.9,618.8 927.0,619.8 927.0,620.8 927.1,621.8 927.2,622.8 927.2,623.8 927.3,624.8 927.4,625.7 927.4,626.7 927.5,627.7 927.6,628.7 927.6,629.7 927.7,630.7 927.8,631.7 927.8,632.7 927.9,633.7 928.0,634.7 928.0,635.7 928.1,636.7 928.2,637.7 928.2,638.7 928.3,639.7 928.4,640.7 928.5,641.7 928.5,642.7 928.6,643.7 928.7,644.7 928.7,645.7 928.8,646.7 928.9,647.7 928.9,648.7 929.0,649.7 929.0,650.7 929.1,651.7 929.2,652.7 929.2,653.7 929.3,654.7 929.3,655.7 929.4,656.7 929.5,657.7 929.5,658.7 929.6,659.7 929.6,660.7 929.7,661.7 929.8,662.7 929.8,663.7 929.9,664.7 929.9,665.7 930.0,666.7 930.1,667.7 930.1,668.7 930.2,669.7 930.3,670.7 930.3,671.7 930.4,672.7 930.5,673.6 930.5,674.6 930.6,675.6 930.7,676.6 930.8,677.6 930.9,678.6 931.0,679.6 931.1,680.6 931.1,681.6 931.2,682.6 931.3,683.6 931.4,684.6 931.5,685.6 931.6,686.6 931.7,687.6 931.8,688.6 931.9,689.6 932.0,690.6 932.1,691.6 932.2,692.6 932.3,693.6 932.4,694.6 932.5,695.6 932.6,696.5 932.7,697.5 932.8,698.5 932.9,699.5 933.0,700.5 933.1,701.5 933.3,702.5 933.4,703.5 933.5,704.5 933.6,705.5 933.7,706.5 933.8,707.5 934.0,708.5 934.1,709.5 934.2,710.5 934.4,711.4 934.5,712.4 934.6,713.4 934.8,714.4 934.9,715.4 935.0,716.4 935.2,717.4 935.3,718.4 935.5,719.4 935.7,720.3 935.8,721.3 936.0,722.3 936.2,723.3 936.3,724.3 936.5,725.3 936.7,726.3 936.9,727.2 937.1,728.2 937.2,729.2 937.4,730.2 937.6,731.2 937.8,732.2 938.0,733.1 938.2,734.1 938.4,735.1 938.6,736.1 938.9,737.0 939.1,738.0 939.3,739.0 939.5,740.0 939.7,740.9 939.9,741.9 940.2,742.9 940.4,743.9 940.6,744.9 940.8,745.8 941.1,746.8 941.3,747.8 941.5,748.7 941.7,749.7 942.0,750.7 942.2,751.7 942.4,752.6 942.7,753.6 942.9,754.6 943.1,755.6 943.4,756.5 943.6,757.5 943.9,758.5 944.1,759.4 944.4,760.4 944.6,761.4 944.9,762.3 945.1,763.3 945.4,764.3 945.7,765.2 945.9,766.2 946.2,767.2 946.5,768.1 946.7,769.1 947.0,770.0 947.3,771.0 947.6,772.0 947.8,772.9 948.1,773.9 948.3,774.9 948.6,775.8 948.8,776.8 949.1,777.8 949.3,778.7 949.6,779.7 949.9,780.7 950.1,781.6 950.4,782.6 950.6,783.6 950.9,784.5 951.2,785.5 951.5,786.5 951.7,787.4 952.0,788.4 952.3,789.3 952.6,790.3 953.0,791.2 953.3,792.2 953.6,793.1 953.9,794.1 954.3,795.0 954.7,795.9 955.1,796.8 955.4,797.8 955.9,798.7 956.3,799.6 956.7,800.5 957.2,801.4 957.7,802.2 958.2,803.1 958.7,804.0 959.2,804.8 959.7,805.7 960.2,806.5 960.8,807.4 961.3,808.2 961.9,809.1 962.4,809.7 963.0,810.5 963.6,811.1 964.2,812.8 964.8,814.4 965.5,813.8 966.1,814.4 966.7,814.8 967.4,816.8 968.0,815.5 968.7,822.9 969.4,818.0 970.1,821.9 970.8,820.1 971.5,817.9 972.2,818.0 973.0,821.0 973.7,820.9 974.5,822.6 975.3,821.0 976.0,830.3 976.8,830.5 977.6,820.8 978.4,827.5 979.3,830.1 980.1,826.4 980.9,827.2 981.7,831.7 982.6,830.6 983.5,825.6 984.3,833.9 985.2,828.9 986.1,837.2 986.9,828.1 987.8,823.8 988.8,832.6 989.7,836.9 990.6,834.8 991.6,833.9 992.5,830.4 993.5,837.1 994.4,827.6 995.4,837.1 996.4,830.3 997.4,832.6 998.3,830.3 999.3,832.0 1000.3,840.7 1001.2,831.5 1002.2,836.6 1003.2,833.4 1004.1,840.1 1005.1,831.9 1006.1,836.9 1007.1,840.4 1008.0,845.4 1009.0,833.4 1010.0,834.7 1011.0,837.8 1012.0,843.4 1012.9,834.7 1013.9,841.4 1014.9,836.4 1015.9,835.1 1016.9,833.2 1017.9,839.4 1018.9,842.5 1019.9,838.8 1020.9,831.7 1021.9,837.3 1022.9,842.8 1023.9,842.6 1024.9,840.6 1025.9,844.9 1026.9,835.2 1027.9,835.4 1028.9,848.3 1029.8,842.3 1030.8,839.3 1031.8,838.3 1032.8,831.0 1033.8,843.1 1034.8,832.8 1035.8,833.2 1036.8,840.1 1037.8,845.6 1038.8,838.8 1039.8,841.6 1040.8,838.7 1041.8,841.6 1042.8,834.2 1043.8,847.6 1044.8,836.6 1045.8,842.0 1046.8,832.7 1047.8,846.2 1048.8,841.4 1049.8,846.9 1050.8,837.4 1051.8,843.3 1052.8,838.9 1053.8,839.3 1054.8,844.0 1055.8,836.0 1056.8,841.7 1057.8,845.9 1058.8,845.1 1059.8,842.5 1060.7,839.7 1061.7,834.9 1062.7,843.3 1063.7,835.5 1064.7,842.1 1065.6,836.4 1066.6,837.4 1067.6,837.1 1068.6,839.0 1069.5,835.0 1070.5,836.9 1071.4,834.1 1072.4,837.5 1073.3,836.2 1074.2,836.3 1075.1,831.7 1075.8,834.5 1076.6,833.2 1077.3,833.1 1077.9,831.7 1078.5,829.9 1079.2,831.0 1079.9,828.1 1080.6,829.4 1081.5,820.7 1082.4,829.5 1083.4,829.9 1084.4,824.2 1085.4,829.6 1086.4,826.3 1087.4,832.7 1088.3,830.3 1089.3,823.7 1090.3,827.7 1091.3,822.4 1092.2,827.8 1093.2,831.2 1094.1,832.5 1095.1,829.5 1096.0,829.4 1096.9,831.2 1097.8,829.1 1098.7,832.7 1099.5,835.6 1100.4,833.3 1101.2,835.8 1102.0,831.5 1102.9,832.9 1103.7,836.0 1104.6,841.9 1105.4,839.3 1106.3,842.4 1107.2,837.1 1108.1,841.7 1109.0,831.6 1110.0,839.8 1111.0,830.7 1112.0,842.7 1113.0,840.2 1114.0,842.7 1115.0,840.0 1116.0,836.9 1117.0,836.0 1118.0,839.3 1119.0,843.9 1120.0,840.8 1120.9,836.6 1121.9,836.4 1122.9,835.9 1123.9,837.5 1124.9,837.9 1125.9,836.4 1126.9,838.1 1127.9,832.5 1128.9,843.6 1129.9,838.9 1130.9,843.4 1131.9,839.1 1132.9,837.3 1133.9,838.4 1134.9,838.9 1135.9,835.7 1136.9,836.8 1137.9,844.9 1138.9,841.5 1139.9,836.3 1140.9,840.0 1141.9,835.2 1142.9,843.1 1143.9,834.6 1144.9,841.3 1145.9,838.3 1146.9,838.3 1147.9,835.3 1148.9,837.2 1149.9,835.4 1150.9,835.0 1151.9,839.6 1152.9,846.8 1153.9,836.7 1154.9,841.4 1155.9,837.7 1156.9,835.2 1157.9,842.3 1158.9,839.8 1159.9,841.5 1160.9,837.8 1161.9,837.8 1162.9,834.3 1163.9,836.2 1164.9,842.9 1165.9,828.9 1166.9,838.2 1167.9,842.0 1168.9,839.5 1169.9,839.7 1170.9,835.6 1171.9,840.4 1172.9,840.4 1173.9,836.1 1174.9,842.1 1175.8,834.3 1176.8,827.2 1177.8,835.8 1178.8,835.3 1179.8,832.6 1180.8,833.9 1181.8,833.5 1182.8,828.8 1183.8,839.6 1184.8,835.2 1185.8,844.6 1186.8,835.0 1187.8,836.5 1188.8,829.7 1189.8,838.7 1190.8,831.3 1191.8,837.2 1192.8,838.7 1193.8,838.2 1194.8,832.8 1195.7,833.1 1196.7,838.8 1197.7,840.5 1198.7,841.7 1199.6,836.7 1200.6,836.7 1201.6,843.6 1202.5,835.5 1203.5,840.4 1204.5,836.9 1205.5,833.2 1206.4,834.5 1207.4,840.2 1208.4,839.7 1209.4,840.8 1210.3,838.1 1211.3,837.8 1212.3,840.8 1213.2,839.4 1214.2,834.6 1215.2,839.0 1216.2,846.7 1217.1,838.2 1218.1,843.1 1219.1,841.0 1220.1,844.1 1221.1,838.6 1222.1,837.3 1223.1,843.6 1224.0,839.7 1225.0,842.2 1226.0,841.3 1227.0,846.0 1228.0,843.7 1229.0,843.4 1230.0,839.6 1231.0,837.7 1231.9,840.4 1232.9,846.4 1233.9,846.1 1234.9,845.8 1235.9,842.5 1236.9,840.4 1237.9,848.2 1238.9,844.9 1239.9,846.3 1240.9,841.2 1241.9,842.3 1242.8,847.0 1243.8,847.5 1244.8,841.5 1245.8,846.1 1246.8,841.2 1247.8,849.6 1248.8,847.8 1249.8,853.5 1250.8,851.0 1251.8,843.5 1252.8,846.6 1253.8,844.3 1254.8,846.6 1255.8,848.9 1256.8,846.2 1257.8,846.5 1258.8,841.7 1259.8,848.5 1260.8,846.5 1261.8,848.8 1262.8,850.3 1263.7,846.9 1264.7,849.3 1265.7,844.8 1266.7,850.2 1267.7,846.9 1268.7,845.0 1269.7,846.3 1270.7,842.2 1271.7,844.9 1272.7,845.7 1273.7,847.3 1274.7,846.9 1275.7,845.0 1276.7,846.7 1277.7,839.9 1278.7,847.7 1279.7,849.3 1280.7,850.1 1281.7,851.1 1282.7,846.7 1283.7,847.1 1284.7,845.7 1285.7,845.7 1286.7,847.8 1287.7,852.1 1288.7,841.5 1289.7,845.7 1290.7,848.3 1291.7,843.9 1292.7,848.8 1293.7,842.6 1294.7,846.1 1295.7,841.6 1296.7,848.3 1297.7,844.5 1298.7,849.5 1299.7,846.2 1300.7,843.9 1301.7,845.7 1302.7,847.6 1303.7,847.0 1304.7,846.1 1305.7,845.8 1306.7,847.0 1307.7,849.8 1308.7,844.8 1309.7,848.3 1310.7,842.1 1311.7,849.8 1312.7,847.8 1313.7,845.3 1314.7,845.3 1315.7,840.5 1316.7,846.6 1317.7,845.4 1318.7,841.3 1319.7,844.5 1320.7,848.0 1321.7,846.5 1322.7,846.8 1323.7,843.8 1324.7,848.6 1325.7,845.5 1326.7,848.5 1327.7,853.1 1328.7,838.4 1329.7,843.6 1330.7,845.3 1331.7,842.6 1332.7,848.7 1333.7,843.8 1334.7,850.8 1335.7,847.6 1336.7,846.4 1337.7,844.8 1338.7,847.7 1339.7,846.5 1340.7,849.8 1341.7,846.2 1342.6,848.2 1343.6,846.1 1344.6,845.8 1345.6,839.2 1346.6,844.6 1347.6,845.9 1348.6,840.5 1349.6,839.7 1350.6,843.5 1351.6,845.5 1352.6,838.6 1353.6,845.6 1354.6,847.8 1355.6,843.6 1356.6,845.3 1357.6,846.0 1358.6,842.1 1359.6,846.6 1360.6,846.0 1361.6,840.1 1362.6,846.2 1363.6,847.4 1364.6,840.6 1365.6,847.4 1366.6,843.4 1367.6,839.7 1368.6,840.7 1369.6,841.2 1370.6,846.2 1371.6,842.6 1372.6,842.9 1373.6,839.8 1374.6,844.3 1375.6,839.8 1376.6,841.8 1377.6,846.2 1378.6,846.4 1379.6,842.2 1380.6,843.8 1381.6,845.8 1382.6,843.8 1383.6,848.0 1384.6,848.4 1385.6,843.4 1386.6,839.4 1387.6,843.1 1388.6,848.2 1389.6,847.4 1390.6,847.5 1391.6,847.2 1392.6,841.5 1393.6,844.2 1394.6,846.9 1395.6,844.0 1396.6,846.1 1397.6,839.4 1398.6,838.6 1399.6,849.8 1400.6,845.4 1401.6,844.8 1402.6,847.7 1403.6,850.3 1404.6,852.5 1405.6,834.0 1406.6,843.6 1407.6,845.8 1408.6,835.5 1409.6,835.8 1410.6,841.4 1411.6,848.5 1412.6,845.1 1413.6,849.3 1414.6,842.7 1415.6,845.4 1416.6,846.9 1417.6,843.1" stroke="#000" stroke-width="6.2"/>
</g>
<g clip-path="url(#ci)" shape-rendering="crispEdges">
<path d="M252 4.7h2V22.4h-2zM254 11.3h2V31.5h-2zM256 -6.9h2V42.9h-2zM258 13.7h2V30.5h-2zM260 16.2h2V44.1h-2zM262 -5.4h2V30.6h-2zM264 -6.7h2V26.5h-2zM266 -23.0h2V14.5h-2zM268 -1.9h2V27.5h-2zM270 8.6h2V33.6h-2zM272 14.8h2V31.0h-2zM274 11.9h2V35.6h-2zM276 7.6h2V30.4h-2zM278 1.0h2V36.4h-2zM280 -2.8h2V31.8h-2zM282 18.7h2V52.9h-2zM284 44.6h2V51.8h-2zM286 6.7h2V58.3h-2zM288 9.5h2V60.9h-2zM290 53.0h2V71.9h-2zM292 57.4h2V73.5h-2zM294 69.3h2V88.5h-2zM296 75.3h2V102.4h-2zM298 87.0h2V116.7h-2zM300 73.1h2V121.1h-2zM302 84.6h2V108.0h-2zM304 82.5h2V119.0h-2zM306 60.1h2V121.7h-2zM308 85.0h2V131.6h-2zM310 80.9h2V135.5h-2zM312 106.6h2V131.9h-2zM314 98.8h2V116.3h-2zM316 102.9h2V122.1h-2zM318 110.3h2V122.3h-2zM320 103.9h2V145.1h-2zM322 109.7h2V151.9h-2zM324 132.0h2V177.5h-2zM326 115.6h2V166.0h-2zM328 126.0h2V175.0h-2zM330 127.3h2V148.8h-2zM332 134.9h2V157.9h-2zM334 136.0h2V156.3h-2zM336 112.9h2V148.9h-2zM338 136.3h2V157.1h-2zM340 153.5h2V167.4h-2zM342 141.3h2V165.0h-2zM344 139.1h2V148.7h-2zM346 143.9h2V164.7h-2zM348 135.2h2V169.0h-2zM350 163.6h2V183.7h-2zM352 151.2h2V201.7h-2zM354 190.0h2V218.4h-2zM356 163.7h2V192.0h-2zM358 180.9h2V194.7h-2zM360 158.0h2V185.4h-2zM362 159.1h2V184.6h-2zM364 182.6h2V196.1h-2zM366 180.0h2V190.7h-2zM368 181.5h2V197.1h-2zM370 174.7h2V202.2h-2zM372 185.2h2V209.0h-2zM374 191.2h2V207.0h-2zM376 188.4h2V210.4h-2zM378 191.6h2V226.1h-2zM380 188.2h2V238.1h-2zM382 190.7h2V223.8h-2zM384 194.9h2V233.2h-2zM386 222.9h2V235.5h-2zM388 221.2h2V230.5h-2zM390 211.4h2V238.5h-2zM392 211.6h2V244.2h-2zM394 222.0h2V253.8h-2zM396 223.8h2V241.5h-2zM398 199.0h2V236.4h-2zM400 211.9h2V228.0h-2zM402 211.7h2V253.0h-2zM404 233.6h2V259.0h-2zM406 192.7h2V242.1h-2zM408 229.4h2V244.0h-2zM410 215.9h2V246.0h-2zM412 224.9h2V244.1h-2zM414 226.8h2V264.3h-2zM416 242.6h2V260.3h-2zM418 234.5h2V268.5h-2zM420 232.3h2V284.5h-2zM422 240.3h2V261.1h-2zM424 224.5h2V265.5h-2zM426 208.8h2V251.2h-2zM428 209.5h2V261.3h-2zM430 215.4h2V252.5h-2zM432 223.8h2V252.7h-2zM434 242.3h2V250.2h-2zM436 238.6h2V260.1h-2zM438 224.6h2V251.9h-2zM440 222.1h2V265.7h-2zM442 236.9h2V250.0h-2zM444 226.4h2V251.1h-2zM446 203.8h2V267.0h-2zM448 225.3h2V249.2h-2zM450 233.4h2V276.0h-2zM452 233.1h2V294.5h-2zM454 227.6h2V257.2h-2zM456 232.5h2V268.0h-2zM458 245.7h2V280.0h-2zM460 244.9h2V299.4h-2zM462 251.2h2V272.8h-2zM464 249.3h2V282.5h-2zM466 222.6h2V299.7h-2zM468 241.3h2V273.4h-2zM470 260.6h2V292.4h-2zM472 263.5h2V278.6h-2zM474 264.5h2V285.4h-2zM476 256.0h2V286.0h-2zM478 255.9h2V268.8h-2zM480 228.6h2V284.1h-2zM482 265.3h2V285.1h-2zM484 234.2h2V280.9h-2zM486 249.9h2V295.2h-2zM488 245.5h2V296.8h-2zM490 238.2h2V278.9h-2zM492 259.1h2V284.1h-2zM494 247.0h2V275.9h-2zM496 264.7h2V275.1h-2zM498 265.3h2V277.7h-2zM500 255.5h2V275.7h-2zM502 261.4h2V289.7h-2zM504 240.0h2V276.6h-2zM506 251.1h2V270.2h-2zM508 241.5h2V270.7h-2zM510 224.6h2V282.4h-2zM512 249.4h2V264.7h-2zM514 255.3h2V279.6h-2zM516 244.0h2V269.3h-2zM518 242.3h2V263.9h-2zM520 246.7h2V265.3h-2zM522 244.7h2V274.1h-2zM524 253.9h2V270.8h-2zM526 243.8h2V255.9h-2zM528 226.9h2V264.0h-2zM530 206.6h2V249.8h-2zM532 225.8h2V246.0h-2zM534 216.3h2V259.7h-2zM536 214.2h2V268.8h-2zM538 216.4h2V242.4h-2zM540 206.9h2V246.0h-2zM542 180.1h2V224.4h-2zM544 196.0h2V236.3h-2zM546 205.7h2V239.3h-2zM548 210.3h2V241.4h-2zM550 215.8h2V229.1h-2zM552 221.1h2V247.2h-2zM554 196.3h2V232.4h-2zM556 208.5h2V259.1h-2zM558 205.9h2V247.6h-2zM560 189.8h2V269.7h-2zM562 215.8h2V247.5h-2zM564 205.5h2V249.0h-2zM566 224.3h2V242.4h-2zM568 208.3h2V247.6h-2zM570 214.0h2V247.9h-2zM572 204.0h2V234.2h-2zM574 219.3h2V267.8h-2zM576 226.8h2V249.9h-2zM578 232.8h2V276.0h-2zM580 226.3h2V263.2h-2zM582 242.6h2V260.7h-2zM584 228.5h2V247.5h-2zM586 244.2h2V264.6h-2zM588 255.1h2V269.4h-2zM590 254.7h2V274.5h-2zM592 258.2h2V274.2h-2zM594 240.8h2V304.1h-2zM596 244.3h2V279.4h-2zM598 260.7h2V284.4h-2zM600 244.2h2V262.7h-2zM602 254.4h2V285.7h-2zM604 257.0h2V278.5h-2zM606 257.7h2V281.6h-2zM608 274.0h2V292.6h-2zM610 257.5h2V282.6h-2zM612 260.6h2V298.7h-2zM614 281.8h2V300.3h-2zM616 275.6h2V302.5h-2zM618 280.1h2V307.3h-2zM620 278.5h2V296.9h-2zM622 277.1h2V295.9h-2zM624 261.6h2V288.6h-2zM626 260.9h2V279.2h-2zM628 260.2h2V275.3h-2zM630 268.3h2V297.6h-2zM632 251.6h2V289.3h-2zM634 251.7h2V277.4h-2zM636 247.7h2V283.5h-2zM638 233.0h2V284.5h-2zM640 232.2h2V287.7h-2zM642 232.6h2V270.7h-2zM644 217.1h2V278.9h-2zM646 235.8h2V296.9h-2zM648 246.9h2V268.9h-2zM650 233.7h2V276.0h-2zM652 211.3h2V278.6h-2zM654 238.7h2V281.0h-2zM656 250.9h2V276.7h-2zM658 257.2h2V278.1h-2zM660 235.3h2V276.7h-2zM662 234.3h2V274.3h-2zM664 237.8h2V261.0h-2zM666 221.1h2V281.6h-2zM668 248.6h2V274.9h-2zM670 235.8h2V259.2h-2zM672 247.5h2V264.2h-2zM674 248.1h2V262.4h-2zM676 243.1h2V257.3h-2zM678 244.3h2V285.2h-2zM680 221.6h2V273.3h-2zM682 223.9h2V268.7h-2zM684 255.8h2V286.5h-2zM686 215.7h2V259.1h-2zM688 213.7h2V266.4h-2zM690 228.4h2V269.9h-2zM692 234.0h2V272.1h-2zM694 233.8h2V263.1h-2zM696 231.9h2V261.6h-2zM698 234.8h2V255.6h-2zM700 220.1h2V249.5h-2zM702 227.3h2V288.4h-2zM704 227.6h2V275.5h-2zM706 229.2h2V286.6h-2zM708 221.5h2V261.0h-2zM710 241.2h2V284.0h-2zM712 237.6h2V251.9h-2zM714 232.1h2V256.3h-2zM716 233.1h2V272.2h-2zM718 219.1h2V266.0h-2zM720 221.1h2V245.5h-2zM722 210.7h2V239.4h-2zM724 217.3h2V249.1h-2zM726 220.3h2V260.1h-2zM728 221.5h2V267.3h-2zM730 207.9h2V247.7h-2zM732 227.2h2V242.2h-2zM734 210.2h2V246.9h-2zM736 214.8h2V246.5h-2zM738 207.2h2V250.6h-2zM740 179.0h2V223.4h-2zM742 195.9h2V218.7h-2zM744 200.6h2V229.1h-2zM746 199.4h2V220.6h-2zM748 190.6h2V217.3h-2zM750 193.3h2V216.8h-2zM752 189.9h2V204.3h-2zM754 169.7h2V219.3h-2zM756 182.9h2V213.2h-2zM758 164.6h2V205.0h-2zM760 147.2h2V205.9h-2zM762 151.5h2V205.7h-2zM764 161.3h2V188.6h-2zM766 148.5h2V186.9h-2zM768 141.3h2V150.5h-2zM770 126.9h2V166.6h-2zM772 120.1h2V180.1h-2zM774 117.2h2V150.9h-2zM776 104.6h2V130.1h-2zM778 108.5h2V140.0h-2zM780 98.1h2V153.9h-2zM782 97.4h2V148.9h-2zM784 114.4h2V146.3h-2zM786 86.8h2V127.5h-2zM788 97.6h2V110.9h-2zM790 108.7h2V127.4h-2zM792 101.8h2V126.1h-2zM794 81.3h2V132.5h-2zM796 74.6h2V144.7h-2zM798 109.2h2V132.8h-2zM800 96.4h2V127.4h-2zM802 97.8h2V115.2h-2zM804 94.5h2V125.6h-2zM806 117.1h2V134.0h-2zM808 114.4h2V148.7h-2zM810 113.1h2V140.7h-2zM812 117.4h2V138.3h-2zM814 80.2h2V120.4h-2zM816 90.6h2V131.8h-2zM818 72.9h2V114.8h-2zM820 102.1h2V131.9h-2zM822 94.1h2V130.2h-2zM824 115.3h2V136.4h-2zM826 111.7h2V130.1h-2zM828 102.6h2V120.6h-2zM830 106.5h2V141.7h-2zM832 100.2h2V121.9h-2zM834 114.0h2V119.8h-2zM836 86.7h2V123.6h-2zM838 90.2h2V112.6h-2zM840 92.2h2V128.6h-2zM842 110.0h2V128.5h-2z" fill="rgb(215,15,15)"/>
<path d="M252 366.4h2V427.8h-2zM254 363.8h2V402.8h-2zM256 376.3h2V414.3h-2zM258 351.0h2V402.0h-2zM260 399.9h2V430.1h-2zM262 389.3h2V406.1h-2zM264 373.4h2V395.5h-2zM266 377.1h2V385.6h-2zM268 355.6h2V407.4h-2zM270 368.6h2V418.7h-2zM272 360.0h2V389.1h-2zM274 369.2h2V408.8h-2zM276 373.8h2V426.7h-2zM278 382.5h2V407.5h-2zM280 343.7h2V399.5h-2zM282 358.0h2V397.5h-2zM284 372.7h2V406.5h-2zM286 391.5h2V423.5h-2zM288 409.6h2V443.9h-2zM290 385.3h2V419.0h-2zM292 359.2h2V389.9h-2zM294 360.0h2V406.6h-2zM296 356.7h2V397.4h-2zM298 395.4h2V426.6h-2zM300 362.2h2V416.2h-2zM302 368.1h2V414.7h-2zM304 412.7h2V419.3h-2zM306 341.3h2V415.5h-2zM308 362.0h2V408.9h-2zM310 378.1h2V419.9h-2zM312 361.3h2V409.4h-2zM314 374.8h2V414.0h-2zM316 345.2h2V388.4h-2zM318 376.8h2V397.2h-2zM320 387.0h2V416.2h-2zM322 388.1h2V429.0h-2zM324 384.0h2V450.9h-2zM326 362.2h2V425.9h-2zM328 374.9h2V426.3h-2zM330 363.6h2V428.8h-2zM332 348.0h2V425.5h-2zM334 385.3h2V454.6h-2zM336 363.7h2V408.8h-2zM338 375.5h2V435.4h-2zM340 372.4h2V415.1h-2zM342 391.1h2V410.8h-2zM344 383.2h2V414.0h-2zM346 354.3h2V393.9h-2zM348 373.3h2V413.8h-2zM350 401.0h2V421.2h-2zM352 371.0h2V415.3h-2zM354 369.8h2V423.3h-2zM356 372.2h2V396.6h-2zM358 370.8h2V400.0h-2zM360 360.3h2V399.7h-2zM362 390.8h2V412.2h-2zM364 388.2h2V418.9h-2zM366 354.7h2V390.9h-2zM368 337.0h2V432.3h-2zM370 338.8h2V397.4h-2zM372 384.4h2V419.4h-2zM374 379.4h2V413.7h-2zM376 382.1h2V413.8h-2zM378 380.8h2V409.8h-2zM380 371.9h2V412.3h-2zM382 351.6h2V398.6h-2zM384 356.1h2V421.4h-2zM386 380.3h2V404.3h-2zM388 372.4h2V403.1h-2zM390 385.8h2V394.3h-2zM392 382.9h2V419.5h-2zM394 374.6h2V414.8h-2zM396 391.8h2V431.5h-2zM398 361.4h2V410.0h-2zM400 373.3h2V427.0h-2zM402 379.3h2V433.8h-2zM404 363.3h2V414.2h-2zM406 384.6h2V409.4h-2zM408 339.3h2V407.3h-2zM410 358.1h2V392.1h-2zM412 347.3h2V386.1h-2zM414 362.1h2V414.0h-2zM416 340.8h2V379.6h-2zM418 377.6h2V417.1h-2zM420 376.9h2V423.7h-2zM422 350.3h2V384.9h-2zM424 376.5h2V411.9h-2zM426 340.6h2V403.3h-2zM428 361.5h2V418.7h-2zM430 356.7h2V385.5h-2zM432 353.4h2V436.1h-2zM434 361.1h2V403.7h-2zM436 377.7h2V411.6h-2zM438 374.6h2V402.9h-2zM440 351.7h2V438.0h-2zM442 374.1h2V407.2h-2zM444 356.0h2V384.5h-2zM446 369.8h2V405.0h-2zM448 388.9h2V409.3h-2zM450 344.5h2V398.3h-2zM452 388.0h2V420.2h-2zM454 370.7h2V429.7h-2zM456 386.3h2V417.6h-2zM458 336.3h2V388.3h-2zM460 335.9h2V410.3h-2zM462 381.3h2V406.3h-2zM464 380.3h2V391.6h-2zM466 328.0h2V397.5h-2zM468 363.0h2V402.0h-2zM470 360.5h2V405.2h-2zM472 362.3h2V396.4h-2zM474 329.1h2V380.7h-2zM476 321.1h2V381.2h-2zM478 343.6h2V420.6h-2zM480 356.4h2V396.8h-2zM482 358.4h2V375.3h-2zM484 320.7h2V393.7h-2zM486 362.7h2V406.7h-2zM488 361.0h2V407.6h-2zM490 316.4h2V406.5h-2zM492 316.2h2V379.4h-2zM494 349.2h2V393.9h-2zM496 368.0h2V393.7h-2zM498 377.7h2V390.4h-2zM500 342.4h2V389.6h-2zM502 350.8h2V370.8h-2zM504 338.2h2V380.9h-2zM506 359.5h2V406.1h-2zM508 360.6h2V368.2h-2zM510 334.0h2V389.7h-2zM512 351.8h2V399.8h-2zM514 361.4h2V416.4h-2zM516 372.0h2V400.7h-2zM518 389.5h2V429.6h-2zM520 354.9h2V391.5h-2zM522 354.9h2V383.6h-2zM524 361.1h2V410.4h-2zM526 357.5h2V421.4h-2zM528 367.5h2V395.4h-2zM530 371.5h2V395.8h-2zM532 362.4h2V382.9h-2zM534 358.1h2V405.7h-2zM536 360.6h2V398.6h-2zM538 351.6h2V405.1h-2zM540 358.2h2V412.0h-2zM542 357.8h2V427.2h-2zM544 349.3h2V394.4h-2zM546 326.5h2V375.5h-2zM548 338.1h2V359.5h-2zM550 343.5h2V390.2h-2zM552 343.9h2V389.1h-2zM554 328.2h2V387.8h-2zM556 367.5h2V393.4h-2zM558 350.6h2V378.7h-2zM560 343.5h2V385.5h-2zM562 362.7h2V388.3h-2zM564 346.5h2V375.2h-2zM566 370.2h2V391.8h-2zM568 359.8h2V411.4h-2zM570 356.3h2V382.0h-2zM572 358.1h2V405.1h-2zM574 345.4h2V380.5h-2zM576 365.8h2V397.0h-2zM578 327.4h2V384.2h-2zM580 358.4h2V396.6h-2zM582 351.3h2V373.9h-2zM584 370.1h2V394.6h-2zM586 355.9h2V375.2h-2zM588 363.6h2V401.4h-2zM590 347.1h2V371.9h-2zM592 354.3h2V390.3h-2zM594 335.8h2V383.0h-2zM596 319.3h2V404.3h-2zM598 353.9h2V390.6h-2zM600 338.4h2V375.6h-2zM602 343.3h2V384.4h-2zM604 331.7h2V387.9h-2zM606 342.8h2V354.5h-2zM608 321.4h2V396.7h-2zM610 304.7h2V367.3h-2zM612 331.2h2V399.0h-2zM614 361.7h2V410.6h-2zM616 356.6h2V407.9h-2zM618 336.3h2V380.0h-2zM620 334.8h2V399.6h-2zM622 305.3h2V385.9h-2zM624 331.3h2V386.8h-2zM626 325.8h2V366.6h-2zM628 332.1h2V353.6h-2zM630 310.9h2V369.3h-2zM632 330.1h2V383.2h-2zM634 321.7h2V362.6h-2zM636 338.9h2V355.7h-2zM638 325.6h2V347.8h-2zM640 320.9h2V351.5h-2zM642 311.4h2V339.8h-2zM644 314.1h2V355.7h-2zM646 331.2h2V375.5h-2zM648 307.5h2V354.7h-2zM650 323.7h2V367.7h-2zM652 335.3h2V358.4h-2zM654 323.8h2V350.7h-2zM656 314.1h2V342.1h-2zM658 311.7h2V374.3h-2zM660 298.4h2V361.5h-2zM662 321.6h2V346.3h-2zM664 304.2h2V357.2h-2zM666 285.2h2V335.4h-2zM668 290.3h2V337.4h-2zM670 273.0h2V327.2h-2zM672 302.9h2V368.3h-2zM674 324.6h2V337.1h-2zM676 308.8h2V347.9h-2zM678 334.2h2V385.2h-2zM680 310.9h2V367.4h-2zM682 301.9h2V354.4h-2zM684 288.4h2V368.5h-2zM686 329.4h2V358.5h-2zM688 312.7h2V353.6h-2zM690 327.6h2V354.9h-2zM692 302.9h2V365.3h-2zM694 301.7h2V324.6h-2zM696 298.5h2V364.2h-2zM698 297.2h2V372.3h-2zM700 307.5h2V329.0h-2zM702 285.6h2V340.2h-2zM704 299.5h2V340.6h-2zM706 311.5h2V335.5h-2zM708 305.5h2V322.3h-2zM710 301.7h2V342.7h-2zM712 305.0h2V336.9h-2zM714 294.7h2V326.3h-2zM716 267.8h2V311.7h-2zM718 283.2h2V343.7h-2zM720 299.2h2V333.0h-2zM722 271.8h2V303.4h-2zM724 265.3h2V294.5h-2zM726 258.6h2V336.4h-2zM728 273.8h2V297.7h-2zM730 280.8h2V313.0h-2zM732 288.0h2V336.3h-2zM734 275.4h2V292.1h-2zM736 276.6h2V303.1h-2zM738 256.5h2V322.2h-2zM740 255.9h2V346.4h-2zM742 283.0h2V331.8h-2zM744 259.3h2V314.6h-2zM746 250.0h2V296.3h-2zM748 243.4h2V279.4h-2zM750 263.1h2V295.0h-2zM752 246.4h2V319.5h-2zM754 225.9h2V279.3h-2zM756 223.1h2V289.9h-2zM758 240.1h2V277.8h-2zM760 217.2h2V256.2h-2zM762 218.7h2V265.2h-2zM764 205.3h2V282.6h-2zM766 210.8h2V243.5h-2zM768 204.5h2V251.1h-2zM770 190.3h2V231.5h-2zM772 183.7h2V236.5h-2zM774 201.7h2V226.1h-2zM776 206.1h2V225.9h-2zM778 186.6h2V210.4h-2zM780 184.4h2V219.1h-2zM782 176.8h2V218.3h-2zM784 174.1h2V203.6h-2zM786 166.9h2V201.1h-2zM788 154.0h2V233.3h-2zM790 174.2h2V231.5h-2zM792 182.1h2V209.3h-2zM794 166.5h2V200.9h-2zM796 170.7h2V200.2h-2zM798 171.3h2V194.6h-2zM800 142.9h2V190.0h-2zM802 162.0h2V212.9h-2zM804 168.5h2V190.4h-2zM806 170.6h2V206.0h-2zM808 184.4h2V233.4h-2zM810 145.8h2V189.4h-2zM812 173.7h2V225.6h-2zM814 180.0h2V210.8h-2zM816 192.8h2V219.5h-2zM818 187.9h2V213.4h-2zM820 162.2h2V201.0h-2zM822 141.6h2V198.3h-2zM824 196.3h2V235.1h-2zM826 187.2h2V229.1h-2zM828 180.4h2V240.5h-2zM830 177.7h2V251.6h-2zM832 176.2h2V219.1h-2zM834 191.7h2V223.2h-2zM836 161.6h2V214.6h-2zM838 174.1h2V235.0h-2zM840 186.9h2V246.1h-2zM842 177.3h2V207.3h-2z" fill="#000"/>
</g>
<g stroke="#000" fill="none">
<rect x="142.25" y="24.05" width="1274.85" height="865.7" stroke-width="5.5"/>
<g stroke-width="5.1"><line x1="233.31" y1="882" x2="233.31" y2="889" /><line x1="324.37" y1="874.2" x2="324.37" y2="889" /><line x1="415.43" y1="882" x2="415.43" y2="889" /><line x1="506.49" y1="874.2" x2="506.49" y2="889" /><line x1="597.55" y1="882" x2="597.55" y2="889" /><line x1="688.61" y1="874.2" x2="688.61" y2="889" /><line x1="779.67" y1="882" x2="779.67" y2="889" /><line x1="870.74" y1="874.2" x2="870.74" y2="889" /><line x1="961.80" y1="882" x2="961.80" y2="889" /><line x1="1052.86" y1="874.2" x2="1052.86" y2="889" /><line x1="1143.92" y1="882" x2="1143.92" y2="889" /><line x1="1234.98" y1="874.2" x2="1234.98" y2="889" /><line x1="1326.04" y1="882" x2="1326.04" y2="889" /></g>
<rect x="252.25" y="99.45" width="591.50" height="404.70" stroke-width="2.5"/>
<g stroke-width="2.6"><line x1="289.10" y1="497.8" x2="289.10" y2="504" /><line x1="326.00" y1="500.5" x2="326.00" y2="504" /><line x1="362.90" y1="497.8" x2="362.90" y2="504" /><line x1="399.80" y1="500.5" x2="399.80" y2="504" /><line x1="436.70" y1="497.8" x2="436.70" y2="504" /><line x1="473.60" y1="500.5" x2="473.60" y2="504" /><line x1="510.50" y1="497.8" x2="510.50" y2="504" /><line x1="547.40" y1="500.5" x2="547.40" y2="504" /><line x1="584.30" y1="497.8" x2="584.30" y2="504" /><line x1="621.20" y1="500.5" x2="621.20" y2="504" /><line x1="658.10" y1="497.8" x2="658.10" y2="504" /><line x1="695.00" y1="500.5" x2="695.00" y2="504" /><line x1="731.90" y1="497.8" x2="731.90" y2="504" /><line x1="768.80" y1="500.5" x2="768.80" y2="504" /><line x1="805.70" y1="497.8" x2="805.70" y2="504" /></g>
<rect x="1054.6" y="46.6" width="332.7" height="110.2" stroke-width="2.7"/>
</g>
<line x1="1058.7" y1="71.5" x2="1175.3" y2="71.5" stroke="rgb(215,15,15)" stroke-width="4.8"/>
<line x1="1058.7" y1="129.35" x2="1175.3" y2="129.35" stroke="#000" stroke-width="4.9"/>
<g><text x="100.60" y="947.60" font-size="47.5" font-weight="normal" textLength="87.77" lengthAdjust="spacing">100</text><text x="278.80" y="947.60" font-size="47.5" font-weight="normal" textLength="88.27" lengthAdjust="spacing">200</text><text x="462.00" y="947.60" font-size="47.5" font-weight="normal" textLength="88.27" lengthAdjust="spacing">300</text><text x="643.50" y="947.60" font-size="47.5" font-weight="normal" textLength="87.27" lengthAdjust="spacing">400</text><text x="825.80" y="947.60" font-size="47.5" font-weight="normal" textLength="88.27" lengthAdjust="spacing">500</text><text x="1007.25" y="947.60" font-size="47.5" font-weight="normal" textLength="88.27" lengthAdjust="spacing">600</text><text x="1189.15" y="947.60" font-size="47.5" font-weight="normal" textLength="88.27" lengthAdjust="spacing">700</text><text x="1371.90" y="947.60" font-size="47.5" font-weight="normal" textLength="88.27" lengthAdjust="spacing">800</text></g>
<g><text x="258.85" y="534.40" font-size="28.6" font-weight="bold" textLength="55.22" lengthAdjust="spacing">160</text><text x="332.75" y="534.40" font-size="28.6" font-weight="bold" textLength="55.22" lengthAdjust="spacing">170</text><text x="406.95" y="534.40" font-size="28.6" font-weight="bold" textLength="55.22" lengthAdjust="spacing">180</text><text x="480.75" y="534.40" font-size="28.6" font-weight="bold" textLength="55.22" lengthAdjust="spacing">190</text><text x="555.25" y="534.40" font-size="28.6" font-weight="bold" textLength="54.22" lengthAdjust="spacing">200</text><text x="631.15" y="534.40" font-size="28.6" font-weight="bold" textLength="54.22" lengthAdjust="spacing">210</text><text x="704.95" y="534.40" font-size="28.6" font-weight="bold" textLength="54.22" lengthAdjust="spacing">220</text><text x="780.25" y="534.40" font-size="28.6" font-weight="bold" textLength="54.22" lengthAdjust="spacing">230</text></g>
<text x="465.20" y="1060.70" font-size="65.5" font-weight="bold" textLength="565.21" lengthAdjust="spacing">Raman Shift (cm</text>
<text x="1035.00" y="1024.00" font-size="40.5" font-weight="bold" textLength="33.62" lengthAdjust="spacing">-1</text>
<text x="1075.80" y="1060.70" font-size="65.5" font-weight="bold">)</text>
<text transform="translate(73.8,807.34) rotate(-90)" x="0" y="0" font-size="75.1" font-weight="bold" textLength="681.11" lengthAdjust="spacingAndGlyphs">Normalized intensity</text>
<text x="1186.90" y="86.50" font-size="43" font-weight="normal" textLength="193.52" lengthAdjust="spacing" fill="#111">ALD-200</text>
<text x="1187.20" y="144.70" font-size="43" font-weight="normal" textLength="43.23" lengthAdjust="spacing" fill="#111">Si</text>
<text x="398.30" y="576.50" font-size="28.6" font-weight="bold" textLength="266.51" lengthAdjust="spacing">Raman Shift (cm</text>
<text x="665.50" y="557.40" font-size="16" font-weight="bold" textLength="14.73" lengthAdjust="spacing">-1</text>
<text x="685.50" y="576.50" font-size="28.6" font-weight="bold">)</text>
</svg>
</body></html>
